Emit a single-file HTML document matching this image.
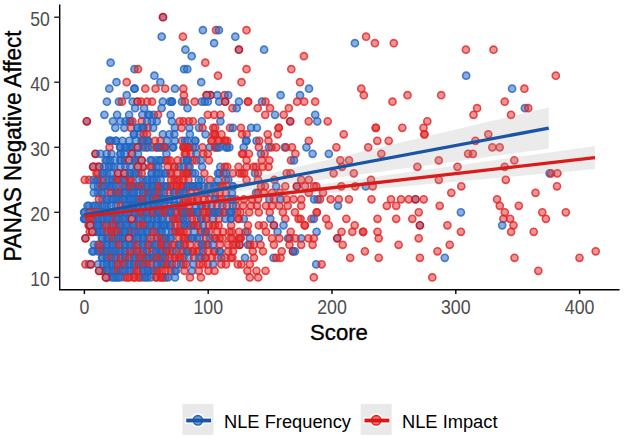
<!DOCTYPE html><html><head><meta charset="utf-8"><style>html,body{margin:0;padding:0;background:#fff;}
svg{display:block;}
.b{fill:#2a6cc4;fill-opacity:.55;stroke:#2264c0;stroke-opacity:.8;stroke-width:1.6}
.m{fill:#c0788f;stroke:#be1c2c;stroke-width:1.7}
.r{fill:#e3262a;fill-opacity:.5;stroke:#dd2626;stroke-opacity:.8;stroke-width:1.6}
</style></head><body><svg width="624" height="439" viewBox="0 0 624 439">
<rect width="624" height="439" fill="#fff"/>
<circle cx="215.0" cy="134.3" r="3.55" class="r"/>
<circle cx="138.5" cy="147.3" r="3.55" class="m"/>
<circle cx="156.5" cy="147.3" r="3.55" class="r"/>
<circle cx="165.5" cy="147.3" r="3.55" class="r"/>
<circle cx="183.5" cy="147.3" r="3.55" class="r"/>
<circle cx="188.0" cy="147.3" r="3.55" class="r"/>
<circle cx="215.0" cy="147.3" r="3.55" class="r"/>
<circle cx="125.0" cy="160.3" r="3.55" class="m"/>
<circle cx="129.5" cy="160.3" r="3.55" class="m"/>
<circle cx="138.5" cy="160.3" r="3.55" class="m"/>
<circle cx="165.5" cy="160.3" r="3.55" class="r"/>
<circle cx="170.0" cy="160.3" r="3.55" class="r"/>
<circle cx="192.5" cy="160.3" r="3.55" class="r"/>
<circle cx="93.5" cy="166.8" r="3.55" class="m"/>
<circle cx="98.0" cy="166.8" r="3.55" class="m"/>
<circle cx="143.0" cy="166.8" r="3.55" class="m"/>
<circle cx="152.0" cy="166.8" r="3.55" class="r"/>
<circle cx="174.5" cy="166.8" r="3.55" class="r"/>
<circle cx="98.0" cy="173.3" r="3.55" class="r"/>
<circle cx="125.0" cy="173.3" r="3.55" class="m"/>
<circle cx="170.0" cy="173.3" r="3.55" class="r"/>
<circle cx="183.5" cy="173.3" r="3.55" class="r"/>
<circle cx="188.0" cy="173.3" r="3.55" class="r"/>
<circle cx="242.0" cy="173.3" r="3.55" class="r"/>
<circle cx="89.0" cy="179.8" r="3.55" class="r"/>
<circle cx="116.0" cy="179.8" r="3.55" class="r"/>
<circle cx="120.5" cy="179.8" r="3.55" class="r"/>
<circle cx="129.5" cy="179.8" r="3.55" class="r"/>
<circle cx="174.5" cy="179.8" r="3.55" class="r"/>
<circle cx="179.0" cy="179.8" r="3.55" class="r"/>
<circle cx="170.0" cy="186.3" r="3.55" class="r"/>
<circle cx="183.5" cy="186.3" r="3.55" class="r"/>
<circle cx="210.5" cy="95.2" r="3.55" class="m"/>
<circle cx="183.5" cy="121.3" r="3.55" class="r"/>
<circle cx="143.0" cy="140.8" r="3.55" class="r"/>
<circle cx="179.0" cy="192.8" r="3.55" class="r"/>
<circle cx="183.5" cy="199.3" r="3.55" class="r"/>
<circle cx="188.0" cy="199.3" r="3.55" class="r"/>
<circle cx="192.5" cy="199.3" r="3.55" class="r"/>
<circle cx="197.0" cy="199.3" r="3.55" class="r"/>
<circle cx="219.5" cy="199.3" r="3.55" class="r"/>
<circle cx="183.5" cy="205.8" r="3.55" class="r"/>
<circle cx="206.0" cy="205.8" r="3.55" class="r"/>
<circle cx="165.5" cy="212.3" r="3.55" class="r"/>
<circle cx="188.0" cy="212.3" r="3.55" class="r"/>
<circle cx="174.5" cy="218.8" r="3.55" class="r"/>
<circle cx="179.0" cy="218.8" r="3.55" class="r"/>
<circle cx="206.0" cy="218.8" r="3.55" class="r"/>
<circle cx="192.5" cy="225.3" r="3.55" class="r"/>
<circle cx="197.0" cy="225.3" r="3.55" class="r"/>
<circle cx="215.0" cy="225.3" r="3.55" class="r"/>
<circle cx="174.5" cy="231.8" r="3.55" class="r"/>
<circle cx="179.0" cy="231.8" r="3.55" class="r"/>
<circle cx="183.5" cy="231.8" r="3.55" class="r"/>
<circle cx="201.5" cy="231.8" r="3.55" class="r"/>
<circle cx="174.5" cy="257.8" r="3.55" class="r"/>
<circle cx="179.0" cy="257.8" r="3.55" class="r"/>
<circle cx="183.5" cy="257.8" r="3.55" class="r"/>
<circle cx="206.0" cy="257.8" r="3.55" class="r"/>
<circle cx="165.5" cy="251.3" r="3.55" class="r"/>
<circle cx="170.0" cy="251.3" r="3.55" class="r"/>
<circle cx="183.5" cy="251.3" r="3.55" class="r"/>
<circle cx="192.5" cy="251.3" r="3.55" class="r"/>
<circle cx="197.0" cy="251.3" r="3.55" class="r"/>
<circle cx="215.0" cy="251.3" r="3.55" class="r"/>
<circle cx="102.5" cy="270.8" r="3.55" class="m"/>
<circle cx="134.0" cy="270.8" r="3.55" class="r"/>
<circle cx="138.5" cy="270.8" r="3.55" class="r"/>
<circle cx="156.5" cy="270.8" r="3.55" class="r"/>
<circle cx="165.5" cy="244.8" r="3.55" class="r"/>
<circle cx="174.5" cy="244.8" r="3.55" class="r"/>
<circle cx="183.5" cy="244.8" r="3.55" class="r"/>
<circle cx="206.0" cy="244.8" r="3.55" class="r"/>
<circle cx="183.5" cy="238.3" r="3.55" class="r"/>
<circle cx="188.0" cy="238.3" r="3.55" class="r"/>
<circle cx="215.0" cy="238.3" r="3.55" class="r"/>
<circle cx="219.5" cy="238.3" r="3.55" class="r"/>
<circle cx="107.0" cy="277.4" r="3.55" class="m"/>
<circle cx="125.0" cy="277.4" r="3.55" class="r"/>
<circle cx="129.5" cy="277.4" r="3.55" class="r"/>
<circle cx="134.0" cy="277.4" r="3.55" class="r"/>
<circle cx="138.5" cy="277.4" r="3.55" class="r"/>
<circle cx="156.5" cy="277.4" r="3.55" class="r"/>
<circle cx="161.0" cy="277.4" r="3.55" class="r"/>
<circle cx="165.5" cy="277.4" r="3.55" class="r"/>
<circle cx="165.5" cy="264.3" r="3.55" class="r"/>
<circle cx="183.5" cy="264.3" r="3.55" class="r"/>
<circle cx="170.0" cy="101.7" r="3.55" class="b"/>
<circle cx="134.0" cy="134.3" r="3.55" class="b"/>
<circle cx="120.5" cy="147.3" r="3.55" class="b"/>
<circle cx="125.0" cy="147.3" r="3.55" class="b"/>
<circle cx="129.5" cy="147.3" r="3.55" class="b"/>
<circle cx="134.0" cy="147.3" r="3.55" class="b"/>
<circle cx="152.0" cy="147.3" r="3.55" class="b"/>
<circle cx="161.0" cy="147.3" r="3.55" class="b"/>
<circle cx="107.0" cy="160.3" r="3.55" class="b"/>
<circle cx="120.5" cy="160.3" r="3.55" class="b"/>
<circle cx="134.0" cy="160.3" r="3.55" class="b"/>
<circle cx="152.0" cy="160.3" r="3.55" class="b"/>
<circle cx="156.5" cy="160.3" r="3.55" class="b"/>
<circle cx="161.0" cy="160.3" r="3.55" class="b"/>
<circle cx="183.5" cy="160.3" r="3.55" class="b"/>
<circle cx="188.0" cy="160.3" r="3.55" class="b"/>
<circle cx="111.5" cy="166.8" r="3.55" class="b"/>
<circle cx="120.5" cy="166.8" r="3.55" class="b"/>
<circle cx="156.5" cy="166.8" r="3.55" class="b"/>
<circle cx="179.0" cy="166.8" r="3.55" class="b"/>
<circle cx="102.5" cy="173.3" r="3.55" class="b"/>
<circle cx="107.0" cy="173.3" r="3.55" class="b"/>
<circle cx="129.5" cy="173.3" r="3.55" class="b"/>
<circle cx="134.0" cy="173.3" r="3.55" class="b"/>
<circle cx="138.5" cy="173.3" r="3.55" class="b"/>
<circle cx="152.0" cy="173.3" r="3.55" class="b"/>
<circle cx="156.5" cy="173.3" r="3.55" class="b"/>
<circle cx="161.0" cy="173.3" r="3.55" class="b"/>
<circle cx="165.5" cy="173.3" r="3.55" class="b"/>
<circle cx="192.5" cy="173.3" r="3.55" class="b"/>
<circle cx="219.5" cy="173.3" r="3.55" class="b"/>
<circle cx="93.5" cy="179.8" r="3.55" class="b"/>
<circle cx="98.0" cy="179.8" r="3.55" class="b"/>
<circle cx="111.5" cy="179.8" r="3.55" class="b"/>
<circle cx="125.0" cy="179.8" r="3.55" class="b"/>
<circle cx="143.0" cy="179.8" r="3.55" class="b"/>
<circle cx="147.5" cy="179.8" r="3.55" class="b"/>
<circle cx="152.0" cy="179.8" r="3.55" class="b"/>
<circle cx="156.5" cy="179.8" r="3.55" class="b"/>
<circle cx="201.5" cy="179.8" r="3.55" class="b"/>
<circle cx="98.0" cy="186.3" r="3.55" class="b"/>
<circle cx="102.5" cy="186.3" r="3.55" class="b"/>
<circle cx="107.0" cy="186.3" r="3.55" class="b"/>
<circle cx="111.5" cy="186.3" r="3.55" class="b"/>
<circle cx="125.0" cy="186.3" r="3.55" class="b"/>
<circle cx="129.5" cy="186.3" r="3.55" class="b"/>
<circle cx="134.0" cy="186.3" r="3.55" class="b"/>
<circle cx="138.5" cy="186.3" r="3.55" class="b"/>
<circle cx="143.0" cy="186.3" r="3.55" class="b"/>
<circle cx="152.0" cy="186.3" r="3.55" class="b"/>
<circle cx="156.5" cy="186.3" r="3.55" class="b"/>
<circle cx="161.0" cy="186.3" r="3.55" class="b"/>
<circle cx="165.5" cy="186.3" r="3.55" class="b"/>
<circle cx="188.0" cy="186.3" r="3.55" class="b"/>
<circle cx="192.5" cy="186.3" r="3.55" class="b"/>
<circle cx="197.0" cy="186.3" r="3.55" class="b"/>
<circle cx="215.0" cy="186.3" r="3.55" class="b"/>
<circle cx="219.5" cy="186.3" r="3.55" class="b"/>
<circle cx="120.5" cy="121.3" r="3.55" class="b"/>
<circle cx="129.5" cy="121.3" r="3.55" class="b"/>
<circle cx="152.0" cy="121.3" r="3.55" class="b"/>
<circle cx="143.0" cy="127.8" r="3.55" class="b"/>
<circle cx="111.5" cy="140.8" r="3.55" class="b"/>
<circle cx="116.0" cy="140.8" r="3.55" class="b"/>
<circle cx="147.5" cy="140.8" r="3.55" class="b"/>
<circle cx="111.5" cy="153.8" r="3.55" class="b"/>
<circle cx="120.5" cy="153.8" r="3.55" class="b"/>
<circle cx="98.0" cy="192.8" r="3.55" class="b"/>
<circle cx="102.5" cy="192.8" r="3.55" class="b"/>
<circle cx="111.5" cy="192.8" r="3.55" class="b"/>
<circle cx="116.0" cy="192.8" r="3.55" class="b"/>
<circle cx="120.5" cy="192.8" r="3.55" class="b"/>
<circle cx="125.0" cy="192.8" r="3.55" class="b"/>
<circle cx="129.5" cy="192.8" r="3.55" class="b"/>
<circle cx="134.0" cy="192.8" r="3.55" class="b"/>
<circle cx="143.0" cy="192.8" r="3.55" class="b"/>
<circle cx="147.5" cy="192.8" r="3.55" class="b"/>
<circle cx="152.0" cy="192.8" r="3.55" class="b"/>
<circle cx="156.5" cy="192.8" r="3.55" class="b"/>
<circle cx="161.0" cy="192.8" r="3.55" class="b"/>
<circle cx="174.5" cy="192.8" r="3.55" class="b"/>
<circle cx="183.5" cy="192.8" r="3.55" class="b"/>
<circle cx="201.5" cy="192.8" r="3.55" class="b"/>
<circle cx="206.0" cy="192.8" r="3.55" class="b"/>
<circle cx="102.5" cy="199.3" r="3.55" class="b"/>
<circle cx="107.0" cy="199.3" r="3.55" class="b"/>
<circle cx="111.5" cy="199.3" r="3.55" class="b"/>
<circle cx="116.0" cy="199.3" r="3.55" class="b"/>
<circle cx="120.5" cy="199.3" r="3.55" class="b"/>
<circle cx="125.0" cy="199.3" r="3.55" class="b"/>
<circle cx="129.5" cy="199.3" r="3.55" class="b"/>
<circle cx="134.0" cy="199.3" r="3.55" class="b"/>
<circle cx="138.5" cy="199.3" r="3.55" class="b"/>
<circle cx="143.0" cy="199.3" r="3.55" class="b"/>
<circle cx="147.5" cy="199.3" r="3.55" class="b"/>
<circle cx="152.0" cy="199.3" r="3.55" class="b"/>
<circle cx="156.5" cy="199.3" r="3.55" class="b"/>
<circle cx="161.0" cy="199.3" r="3.55" class="b"/>
<circle cx="165.5" cy="199.3" r="3.55" class="b"/>
<circle cx="170.0" cy="199.3" r="3.55" class="b"/>
<circle cx="215.0" cy="199.3" r="3.55" class="b"/>
<circle cx="89.0" cy="205.8" r="3.55" class="b"/>
<circle cx="93.5" cy="205.8" r="3.55" class="b"/>
<circle cx="98.0" cy="205.8" r="3.55" class="b"/>
<circle cx="102.5" cy="205.8" r="3.55" class="b"/>
<circle cx="107.0" cy="205.8" r="3.55" class="b"/>
<circle cx="116.0" cy="205.8" r="3.55" class="b"/>
<circle cx="125.0" cy="205.8" r="3.55" class="b"/>
<circle cx="129.5" cy="205.8" r="3.55" class="b"/>
<circle cx="134.0" cy="205.8" r="3.55" class="b"/>
<circle cx="138.5" cy="205.8" r="3.55" class="b"/>
<circle cx="143.0" cy="205.8" r="3.55" class="b"/>
<circle cx="147.5" cy="205.8" r="3.55" class="b"/>
<circle cx="152.0" cy="205.8" r="3.55" class="b"/>
<circle cx="156.5" cy="205.8" r="3.55" class="b"/>
<circle cx="161.0" cy="205.8" r="3.55" class="b"/>
<circle cx="174.5" cy="205.8" r="3.55" class="b"/>
<circle cx="179.0" cy="205.8" r="3.55" class="b"/>
<circle cx="201.5" cy="205.8" r="3.55" class="b"/>
<circle cx="84.5" cy="212.3" r="3.55" class="b"/>
<circle cx="89.0" cy="212.3" r="3.55" class="b"/>
<circle cx="93.5" cy="212.3" r="3.55" class="b"/>
<circle cx="98.0" cy="212.3" r="3.55" class="b"/>
<circle cx="102.5" cy="212.3" r="3.55" class="b"/>
<circle cx="107.0" cy="212.3" r="3.55" class="b"/>
<circle cx="111.5" cy="212.3" r="3.55" class="b"/>
<circle cx="116.0" cy="212.3" r="3.55" class="b"/>
<circle cx="120.5" cy="212.3" r="3.55" class="b"/>
<circle cx="125.0" cy="212.3" r="3.55" class="b"/>
<circle cx="129.5" cy="212.3" r="3.55" class="b"/>
<circle cx="134.0" cy="212.3" r="3.55" class="b"/>
<circle cx="138.5" cy="212.3" r="3.55" class="b"/>
<circle cx="143.0" cy="212.3" r="3.55" class="b"/>
<circle cx="147.5" cy="212.3" r="3.55" class="b"/>
<circle cx="152.0" cy="212.3" r="3.55" class="b"/>
<circle cx="156.5" cy="212.3" r="3.55" class="b"/>
<circle cx="161.0" cy="212.3" r="3.55" class="b"/>
<circle cx="170.0" cy="212.3" r="3.55" class="b"/>
<circle cx="183.5" cy="212.3" r="3.55" class="b"/>
<circle cx="192.5" cy="212.3" r="3.55" class="b"/>
<circle cx="197.0" cy="212.3" r="3.55" class="b"/>
<circle cx="215.0" cy="212.3" r="3.55" class="b"/>
<circle cx="219.5" cy="212.3" r="3.55" class="b"/>
<circle cx="84.5" cy="218.8" r="3.55" class="b"/>
<circle cx="89.0" cy="218.8" r="3.55" class="b"/>
<circle cx="93.5" cy="218.8" r="3.55" class="b"/>
<circle cx="98.0" cy="218.8" r="3.55" class="b"/>
<circle cx="102.5" cy="218.8" r="3.55" class="b"/>
<circle cx="107.0" cy="218.8" r="3.55" class="b"/>
<circle cx="111.5" cy="218.8" r="3.55" class="b"/>
<circle cx="116.0" cy="218.8" r="3.55" class="b"/>
<circle cx="120.5" cy="218.8" r="3.55" class="b"/>
<circle cx="125.0" cy="218.8" r="3.55" class="b"/>
<circle cx="129.5" cy="218.8" r="3.55" class="b"/>
<circle cx="134.0" cy="218.8" r="3.55" class="b"/>
<circle cx="138.5" cy="218.8" r="3.55" class="b"/>
<circle cx="143.0" cy="218.8" r="3.55" class="b"/>
<circle cx="147.5" cy="218.8" r="3.55" class="b"/>
<circle cx="152.0" cy="218.8" r="3.55" class="b"/>
<circle cx="156.5" cy="218.8" r="3.55" class="b"/>
<circle cx="161.0" cy="218.8" r="3.55" class="b"/>
<circle cx="183.5" cy="218.8" r="3.55" class="b"/>
<circle cx="201.5" cy="218.8" r="3.55" class="b"/>
<circle cx="89.0" cy="225.3" r="3.55" class="b"/>
<circle cx="93.5" cy="225.3" r="3.55" class="b"/>
<circle cx="98.0" cy="225.3" r="3.55" class="b"/>
<circle cx="102.5" cy="225.3" r="3.55" class="b"/>
<circle cx="107.0" cy="225.3" r="3.55" class="b"/>
<circle cx="111.5" cy="225.3" r="3.55" class="b"/>
<circle cx="116.0" cy="225.3" r="3.55" class="b"/>
<circle cx="120.5" cy="225.3" r="3.55" class="b"/>
<circle cx="125.0" cy="225.3" r="3.55" class="b"/>
<circle cx="129.5" cy="225.3" r="3.55" class="b"/>
<circle cx="134.0" cy="225.3" r="3.55" class="b"/>
<circle cx="138.5" cy="225.3" r="3.55" class="b"/>
<circle cx="143.0" cy="225.3" r="3.55" class="b"/>
<circle cx="147.5" cy="225.3" r="3.55" class="b"/>
<circle cx="152.0" cy="225.3" r="3.55" class="b"/>
<circle cx="156.5" cy="225.3" r="3.55" class="b"/>
<circle cx="161.0" cy="225.3" r="3.55" class="b"/>
<circle cx="165.5" cy="225.3" r="3.55" class="b"/>
<circle cx="170.0" cy="225.3" r="3.55" class="b"/>
<circle cx="183.5" cy="225.3" r="3.55" class="b"/>
<circle cx="188.0" cy="225.3" r="3.55" class="b"/>
<circle cx="93.5" cy="231.8" r="3.55" class="b"/>
<circle cx="98.0" cy="231.8" r="3.55" class="b"/>
<circle cx="102.5" cy="231.8" r="3.55" class="b"/>
<circle cx="107.0" cy="231.8" r="3.55" class="b"/>
<circle cx="111.5" cy="231.8" r="3.55" class="b"/>
<circle cx="116.0" cy="231.8" r="3.55" class="b"/>
<circle cx="120.5" cy="231.8" r="3.55" class="b"/>
<circle cx="125.0" cy="231.8" r="3.55" class="b"/>
<circle cx="129.5" cy="231.8" r="3.55" class="b"/>
<circle cx="134.0" cy="231.8" r="3.55" class="b"/>
<circle cx="138.5" cy="231.8" r="3.55" class="b"/>
<circle cx="143.0" cy="231.8" r="3.55" class="b"/>
<circle cx="147.5" cy="231.8" r="3.55" class="b"/>
<circle cx="152.0" cy="231.8" r="3.55" class="b"/>
<circle cx="156.5" cy="231.8" r="3.55" class="b"/>
<circle cx="161.0" cy="231.8" r="3.55" class="b"/>
<circle cx="206.0" cy="231.8" r="3.55" class="b"/>
<circle cx="102.5" cy="257.8" r="3.55" class="b"/>
<circle cx="107.0" cy="257.8" r="3.55" class="b"/>
<circle cx="111.5" cy="257.8" r="3.55" class="b"/>
<circle cx="116.0" cy="257.8" r="3.55" class="b"/>
<circle cx="120.5" cy="257.8" r="3.55" class="b"/>
<circle cx="125.0" cy="257.8" r="3.55" class="b"/>
<circle cx="129.5" cy="257.8" r="3.55" class="b"/>
<circle cx="134.0" cy="257.8" r="3.55" class="b"/>
<circle cx="138.5" cy="257.8" r="3.55" class="b"/>
<circle cx="143.0" cy="257.8" r="3.55" class="b"/>
<circle cx="147.5" cy="257.8" r="3.55" class="b"/>
<circle cx="152.0" cy="257.8" r="3.55" class="b"/>
<circle cx="156.5" cy="257.8" r="3.55" class="b"/>
<circle cx="161.0" cy="257.8" r="3.55" class="b"/>
<circle cx="165.5" cy="257.8" r="3.55" class="b"/>
<circle cx="201.5" cy="257.8" r="3.55" class="b"/>
<circle cx="93.5" cy="251.3" r="3.55" class="b"/>
<circle cx="98.0" cy="251.3" r="3.55" class="b"/>
<circle cx="102.5" cy="251.3" r="3.55" class="b"/>
<circle cx="107.0" cy="251.3" r="3.55" class="b"/>
<circle cx="111.5" cy="251.3" r="3.55" class="b"/>
<circle cx="116.0" cy="251.3" r="3.55" class="b"/>
<circle cx="120.5" cy="251.3" r="3.55" class="b"/>
<circle cx="125.0" cy="251.3" r="3.55" class="b"/>
<circle cx="129.5" cy="251.3" r="3.55" class="b"/>
<circle cx="134.0" cy="251.3" r="3.55" class="b"/>
<circle cx="138.5" cy="251.3" r="3.55" class="b"/>
<circle cx="143.0" cy="251.3" r="3.55" class="b"/>
<circle cx="147.5" cy="251.3" r="3.55" class="b"/>
<circle cx="156.5" cy="251.3" r="3.55" class="b"/>
<circle cx="161.0" cy="251.3" r="3.55" class="b"/>
<circle cx="188.0" cy="251.3" r="3.55" class="b"/>
<circle cx="219.5" cy="251.3" r="3.55" class="b"/>
<circle cx="107.0" cy="270.8" r="3.55" class="b"/>
<circle cx="111.5" cy="270.8" r="3.55" class="b"/>
<circle cx="116.0" cy="270.8" r="3.55" class="b"/>
<circle cx="120.5" cy="270.8" r="3.55" class="b"/>
<circle cx="125.0" cy="270.8" r="3.55" class="b"/>
<circle cx="129.5" cy="270.8" r="3.55" class="b"/>
<circle cx="143.0" cy="270.8" r="3.55" class="b"/>
<circle cx="147.5" cy="270.8" r="3.55" class="b"/>
<circle cx="152.0" cy="270.8" r="3.55" class="b"/>
<circle cx="174.5" cy="270.8" r="3.55" class="b"/>
<circle cx="98.0" cy="244.8" r="3.55" class="b"/>
<circle cx="102.5" cy="244.8" r="3.55" class="b"/>
<circle cx="107.0" cy="244.8" r="3.55" class="b"/>
<circle cx="111.5" cy="244.8" r="3.55" class="b"/>
<circle cx="116.0" cy="244.8" r="3.55" class="b"/>
<circle cx="120.5" cy="244.8" r="3.55" class="b"/>
<circle cx="125.0" cy="244.8" r="3.55" class="b"/>
<circle cx="129.5" cy="244.8" r="3.55" class="b"/>
<circle cx="134.0" cy="244.8" r="3.55" class="b"/>
<circle cx="138.5" cy="244.8" r="3.55" class="b"/>
<circle cx="143.0" cy="244.8" r="3.55" class="b"/>
<circle cx="147.5" cy="244.8" r="3.55" class="b"/>
<circle cx="152.0" cy="244.8" r="3.55" class="b"/>
<circle cx="156.5" cy="244.8" r="3.55" class="b"/>
<circle cx="161.0" cy="244.8" r="3.55" class="b"/>
<circle cx="179.0" cy="244.8" r="3.55" class="b"/>
<circle cx="201.5" cy="244.8" r="3.55" class="b"/>
<circle cx="102.5" cy="238.3" r="3.55" class="b"/>
<circle cx="107.0" cy="238.3" r="3.55" class="b"/>
<circle cx="111.5" cy="238.3" r="3.55" class="b"/>
<circle cx="116.0" cy="238.3" r="3.55" class="b"/>
<circle cx="120.5" cy="238.3" r="3.55" class="b"/>
<circle cx="125.0" cy="238.3" r="3.55" class="b"/>
<circle cx="129.5" cy="238.3" r="3.55" class="b"/>
<circle cx="134.0" cy="238.3" r="3.55" class="b"/>
<circle cx="138.5" cy="238.3" r="3.55" class="b"/>
<circle cx="143.0" cy="238.3" r="3.55" class="b"/>
<circle cx="147.5" cy="238.3" r="3.55" class="b"/>
<circle cx="156.5" cy="238.3" r="3.55" class="b"/>
<circle cx="161.0" cy="238.3" r="3.55" class="b"/>
<circle cx="165.5" cy="238.3" r="3.55" class="b"/>
<circle cx="170.0" cy="238.3" r="3.55" class="b"/>
<circle cx="192.5" cy="238.3" r="3.55" class="b"/>
<circle cx="197.0" cy="238.3" r="3.55" class="b"/>
<circle cx="111.5" cy="277.4" r="3.55" class="b"/>
<circle cx="116.0" cy="277.4" r="3.55" class="b"/>
<circle cx="120.5" cy="277.4" r="3.55" class="b"/>
<circle cx="143.0" cy="277.4" r="3.55" class="b"/>
<circle cx="147.5" cy="277.4" r="3.55" class="b"/>
<circle cx="89.0" cy="264.3" r="3.55" class="b"/>
<circle cx="98.0" cy="264.3" r="3.55" class="b"/>
<circle cx="107.0" cy="264.3" r="3.55" class="b"/>
<circle cx="111.5" cy="264.3" r="3.55" class="b"/>
<circle cx="116.0" cy="264.3" r="3.55" class="b"/>
<circle cx="120.5" cy="264.3" r="3.55" class="b"/>
<circle cx="125.0" cy="264.3" r="3.55" class="b"/>
<circle cx="129.5" cy="264.3" r="3.55" class="b"/>
<circle cx="134.0" cy="264.3" r="3.55" class="b"/>
<circle cx="138.5" cy="264.3" r="3.55" class="b"/>
<circle cx="143.0" cy="264.3" r="3.55" class="b"/>
<circle cx="147.5" cy="264.3" r="3.55" class="b"/>
<circle cx="156.5" cy="264.3" r="3.55" class="b"/>
<circle cx="161.0" cy="264.3" r="3.55" class="b"/>
<circle cx="202.9" cy="30.2" r="3.55" class="b"/>
<circle cx="216.0" cy="30.2" r="3.55" class="r"/>
<circle cx="218.9" cy="30.2" r="3.55" class="b"/>
<circle cx="246.5" cy="30.2" r="3.55" class="r"/>
<circle cx="235.3" cy="36.7" r="3.55" class="b"/>
<circle cx="214.1" cy="43.2" r="3.55" class="b"/>
<circle cx="238.9" cy="49.7" r="3.55" class="m"/>
<circle cx="264.1" cy="49.7" r="3.55" class="b"/>
<circle cx="205.3" cy="62.7" r="3.55" class="r"/>
<circle cx="246.5" cy="69.2" r="3.55" class="r"/>
<circle cx="291.3" cy="69.2" r="3.55" class="r"/>
<circle cx="163.0" cy="17.2" r="3.55" class="m"/>
<circle cx="161.7" cy="36.7" r="3.55" class="b"/>
<circle cx="182.9" cy="36.7" r="3.55" class="r"/>
<circle cx="185.4" cy="49.7" r="3.55" class="b"/>
<circle cx="191.7" cy="56.2" r="3.55" class="b"/>
<circle cx="110.6" cy="62.7" r="3.55" class="b"/>
<circle cx="134.5" cy="69.2" r="3.55" class="b"/>
<circle cx="138.0" cy="69.2" r="3.55" class="r"/>
<circle cx="184.1" cy="69.2" r="3.55" class="b"/>
<circle cx="187.3" cy="69.2" r="3.55" class="b"/>
<circle cx="303.9" cy="56.2" r="3.55" class="r"/>
<circle cx="354.9" cy="43.2" r="3.55" class="b"/>
<circle cx="366.1" cy="36.7" r="3.55" class="r"/>
<circle cx="374.9" cy="43.2" r="3.55" class="r"/>
<circle cx="393.8" cy="43.2" r="3.55" class="r"/>
<circle cx="465.9" cy="49.7" r="3.55" class="r"/>
<circle cx="493.5" cy="49.7" r="3.55" class="r"/>
<circle cx="555.8" cy="75.7" r="3.55" class="r"/>
<circle cx="512.1" cy="88.7" r="3.55" class="b"/>
<circle cx="524.4" cy="88.7" r="3.55" class="r"/>
<circle cx="504.7" cy="101.7" r="3.55" class="r"/>
<circle cx="524.9" cy="108.2" r="3.55" class="b"/>
<circle cx="528.2" cy="108.2" r="3.55" class="r"/>
<circle cx="511.0" cy="114.8" r="3.55" class="r"/>
<circle cx="488.3" cy="134.3" r="3.55" class="r"/>
<circle cx="492.3" cy="147.3" r="3.55" class="r"/>
<circle cx="499.7" cy="147.3" r="3.55" class="r"/>
<circle cx="514.3" cy="160.3" r="3.55" class="r"/>
<circle cx="504.7" cy="166.8" r="3.55" class="r"/>
<circle cx="549.6" cy="173.3" r="3.55" class="b"/>
<circle cx="551.0" cy="173.3" r="3.55" class="r"/>
<circle cx="557.4" cy="173.3" r="3.55" class="r"/>
<circle cx="505.8" cy="179.8" r="3.55" class="r"/>
<circle cx="557.0" cy="186.3" r="3.55" class="r"/>
<circle cx="466.2" cy="75.7" r="3.55" class="b"/>
<circle cx="407.5" cy="95.2" r="3.55" class="r"/>
<circle cx="441.2" cy="95.2" r="3.55" class="r"/>
<circle cx="392.5" cy="101.7" r="3.55" class="r"/>
<circle cx="477.1" cy="108.2" r="3.55" class="r"/>
<circle cx="473.5" cy="114.8" r="3.55" class="r"/>
<circle cx="427.3" cy="121.3" r="3.55" class="r"/>
<circle cx="375.8" cy="127.8" r="3.55" class="r"/>
<circle cx="375.8" cy="127.8" r="3.55" class="r"/>
<circle cx="402.3" cy="127.8" r="3.55" class="r"/>
<circle cx="423.5" cy="127.8" r="3.55" class="r"/>
<circle cx="424.4" cy="134.3" r="3.55" class="r"/>
<circle cx="424.4" cy="134.3" r="3.55" class="r"/>
<circle cx="377.3" cy="140.8" r="3.55" class="r"/>
<circle cx="388.7" cy="140.8" r="3.55" class="r"/>
<circle cx="475.4" cy="140.8" r="3.55" class="r"/>
<circle cx="300.0" cy="82.2" r="3.55" class="r"/>
<circle cx="309.0" cy="88.7" r="3.55" class="b"/>
<circle cx="361.3" cy="88.7" r="3.55" class="r"/>
<circle cx="280.6" cy="95.2" r="3.55" class="b"/>
<circle cx="300.0" cy="95.2" r="3.55" class="b"/>
<circle cx="363.8" cy="95.2" r="3.55" class="r"/>
<circle cx="262.0" cy="101.7" r="3.55" class="b"/>
<circle cx="265.5" cy="101.7" r="3.55" class="r"/>
<circle cx="297.1" cy="101.7" r="3.55" class="r"/>
<circle cx="304.2" cy="101.7" r="3.55" class="r"/>
<circle cx="315.2" cy="101.7" r="3.55" class="r"/>
<circle cx="270.0" cy="108.2" r="3.55" class="r"/>
<circle cx="288.8" cy="108.2" r="3.55" class="r"/>
<circle cx="265.2" cy="114.8" r="3.55" class="r"/>
<circle cx="275.0" cy="114.8" r="3.55" class="b"/>
<circle cx="283.7" cy="114.8" r="3.55" class="r"/>
<circle cx="315.2" cy="114.8" r="3.55" class="b"/>
<circle cx="290.2" cy="121.3" r="3.55" class="m"/>
<circle cx="308.7" cy="121.3" r="3.55" class="r"/>
<circle cx="317.3" cy="121.3" r="3.55" class="b"/>
<circle cx="327.7" cy="121.3" r="3.55" class="r"/>
<circle cx="278.7" cy="127.8" r="3.55" class="r"/>
<circle cx="278.7" cy="127.8" r="3.55" class="r"/>
<circle cx="267.7" cy="134.3" r="3.55" class="r"/>
<circle cx="277.7" cy="134.3" r="3.55" class="r"/>
<circle cx="343.7" cy="134.3" r="3.55" class="r"/>
<circle cx="256.9" cy="127.8" r="3.55" class="b"/>
<circle cx="256.5" cy="140.8" r="3.55" class="b"/>
<circle cx="259.3" cy="140.8" r="3.55" class="r"/>
<circle cx="268.5" cy="140.8" r="3.55" class="r"/>
<circle cx="308.8" cy="140.8" r="3.55" class="r"/>
<circle cx="258.8" cy="147.3" r="3.55" class="r"/>
<circle cx="268.9" cy="147.3" r="3.55" class="b"/>
<circle cx="271.5" cy="147.3" r="3.55" class="r"/>
<circle cx="276.2" cy="147.3" r="3.55" class="r"/>
<circle cx="284.8" cy="147.3" r="3.55" class="b"/>
<circle cx="286.0" cy="147.3" r="3.55" class="r"/>
<circle cx="292.0" cy="147.3" r="3.55" class="r"/>
<circle cx="306.4" cy="147.3" r="3.55" class="b"/>
<circle cx="261.0" cy="153.8" r="3.55" class="b"/>
<circle cx="264.6" cy="153.8" r="3.55" class="r"/>
<circle cx="295.4" cy="153.8" r="3.55" class="r"/>
<circle cx="312.6" cy="153.8" r="3.55" class="b"/>
<circle cx="261.7" cy="160.3" r="3.55" class="r"/>
<circle cx="269.4" cy="160.3" r="3.55" class="r"/>
<circle cx="291.0" cy="160.3" r="3.55" class="r"/>
<circle cx="294.0" cy="160.3" r="3.55" class="b"/>
<circle cx="336.4" cy="147.3" r="3.55" class="r"/>
<circle cx="368.2" cy="147.3" r="3.55" class="r"/>
<circle cx="328.8" cy="153.8" r="3.55" class="b"/>
<circle cx="340.3" cy="160.3" r="3.55" class="r"/>
<circle cx="349.0" cy="160.3" r="3.55" class="r"/>
<circle cx="381.3" cy="153.8" r="3.55" class="r"/>
<circle cx="417.4" cy="166.8" r="3.55" class="r"/>
<circle cx="468.1" cy="153.8" r="3.55" class="r"/>
<circle cx="472.9" cy="153.8" r="3.55" class="r"/>
<circle cx="438.8" cy="160.3" r="3.55" class="r"/>
<circle cx="457.5" cy="166.8" r="3.55" class="r"/>
<circle cx="256.0" cy="166.8" r="3.55" class="r"/>
<circle cx="262.7" cy="166.8" r="3.55" class="r"/>
<circle cx="268.5" cy="166.8" r="3.55" class="r"/>
<circle cx="255.0" cy="173.3" r="3.55" class="b"/>
<circle cx="258.0" cy="173.3" r="3.55" class="r"/>
<circle cx="286.7" cy="173.3" r="3.55" class="r"/>
<circle cx="290.6" cy="173.3" r="3.55" class="r"/>
<circle cx="258.0" cy="179.8" r="3.55" class="r"/>
<circle cx="274.4" cy="179.8" r="3.55" class="r"/>
<circle cx="301.2" cy="179.8" r="3.55" class="r"/>
<circle cx="308.8" cy="179.8" r="3.55" class="r"/>
<circle cx="261.0" cy="186.3" r="3.55" class="r"/>
<circle cx="265.0" cy="186.3" r="3.55" class="r"/>
<circle cx="276.2" cy="186.3" r="3.55" class="b"/>
<circle cx="285.3" cy="186.3" r="3.55" class="r"/>
<circle cx="296.8" cy="186.3" r="3.55" class="m"/>
<circle cx="305.0" cy="186.3" r="3.55" class="r"/>
<circle cx="314.0" cy="186.3" r="3.55" class="r"/>
<circle cx="256.0" cy="192.8" r="3.55" class="b"/>
<circle cx="258.0" cy="192.8" r="3.55" class="r"/>
<circle cx="264.0" cy="192.8" r="3.55" class="r"/>
<circle cx="272.0" cy="192.8" r="3.55" class="r"/>
<circle cx="280.0" cy="192.8" r="3.55" class="r"/>
<circle cx="308.8" cy="192.8" r="3.55" class="r"/>
<circle cx="258.0" cy="199.3" r="3.55" class="r"/>
<circle cx="269.4" cy="199.3" r="3.55" class="b"/>
<circle cx="274.0" cy="199.3" r="3.55" class="r"/>
<circle cx="293.5" cy="199.3" r="3.55" class="r"/>
<circle cx="314.1" cy="199.3" r="3.55" class="b"/>
<circle cx="342.0" cy="166.8" r="3.55" class="r"/>
<circle cx="333.6" cy="173.3" r="3.55" class="r"/>
<circle cx="353.8" cy="173.3" r="3.55" class="r"/>
<circle cx="371.0" cy="179.8" r="3.55" class="r"/>
<circle cx="316.3" cy="186.3" r="3.55" class="r"/>
<circle cx="341.3" cy="186.3" r="3.55" class="r"/>
<circle cx="355.2" cy="186.3" r="3.55" class="r"/>
<circle cx="365.8" cy="186.3" r="3.55" class="b"/>
<circle cx="323.0" cy="192.8" r="3.55" class="r"/>
<circle cx="317.7" cy="199.3" r="3.55" class="b"/>
<circle cx="320.0" cy="199.3" r="3.55" class="r"/>
<circle cx="330.7" cy="199.3" r="3.55" class="r"/>
<circle cx="338.8" cy="199.3" r="3.55" class="r"/>
<circle cx="349.0" cy="199.3" r="3.55" class="r"/>
<circle cx="371.5" cy="199.3" r="3.55" class="r"/>
<circle cx="337.9" cy="205.8" r="3.55" class="b"/>
<circle cx="372.7" cy="186.3" r="3.55" class="r"/>
<circle cx="391.0" cy="199.3" r="3.55" class="r"/>
<circle cx="401.0" cy="199.3" r="3.55" class="r"/>
<circle cx="408.8" cy="199.3" r="3.55" class="r"/>
<circle cx="415.5" cy="199.3" r="3.55" class="m"/>
<circle cx="423.7" cy="199.3" r="3.55" class="r"/>
<circle cx="438.8" cy="179.8" r="3.55" class="r"/>
<circle cx="461.3" cy="186.3" r="3.55" class="r"/>
<circle cx="451.3" cy="192.8" r="3.55" class="r"/>
<circle cx="439.7" cy="205.8" r="3.55" class="r"/>
<circle cx="535.5" cy="192.8" r="3.55" class="r"/>
<circle cx="497.1" cy="199.3" r="3.55" class="r"/>
<circle cx="499.8" cy="205.8" r="3.55" class="r"/>
<circle cx="518.8" cy="205.8" r="3.55" class="r"/>
<circle cx="504.8" cy="212.3" r="3.55" class="r"/>
<circle cx="503.4" cy="218.8" r="3.55" class="r"/>
<circle cx="510.1" cy="218.8" r="3.55" class="r"/>
<circle cx="502.2" cy="225.3" r="3.55" class="b"/>
<circle cx="513.5" cy="225.3" r="3.55" class="r"/>
<circle cx="511.1" cy="231.8" r="3.55" class="r"/>
<circle cx="533.7" cy="231.8" r="3.55" class="r"/>
<circle cx="542.3" cy="212.3" r="3.55" class="r"/>
<circle cx="545.9" cy="218.8" r="3.55" class="r"/>
<circle cx="565.8" cy="212.3" r="3.55" class="r"/>
<circle cx="579.5" cy="257.8" r="3.55" class="r"/>
<circle cx="595.7" cy="251.3" r="3.55" class="r"/>
<circle cx="538.3" cy="270.8" r="3.55" class="r"/>
<circle cx="460.9" cy="212.3" r="3.55" class="b"/>
<circle cx="447.4" cy="225.3" r="3.55" class="r"/>
<circle cx="460.9" cy="231.8" r="3.55" class="r"/>
<circle cx="449.7" cy="244.8" r="3.55" class="r"/>
<circle cx="437.5" cy="251.3" r="3.55" class="r"/>
<circle cx="444.8" cy="257.8" r="3.55" class="b"/>
<circle cx="514.5" cy="257.8" r="3.55" class="r"/>
<circle cx="386.8" cy="205.8" r="3.55" class="r"/>
<circle cx="396.2" cy="205.8" r="3.55" class="r"/>
<circle cx="418.7" cy="212.3" r="3.55" class="r"/>
<circle cx="377.5" cy="218.8" r="3.55" class="r"/>
<circle cx="396.2" cy="218.8" r="3.55" class="r"/>
<circle cx="412.3" cy="218.8" r="3.55" class="r"/>
<circle cx="419.9" cy="225.3" r="3.55" class="m"/>
<circle cx="377.5" cy="231.8" r="3.55" class="r"/>
<circle cx="378.7" cy="238.3" r="3.55" class="r"/>
<circle cx="418.7" cy="238.3" r="3.55" class="r"/>
<circle cx="398.6" cy="244.8" r="3.55" class="r"/>
<circle cx="378.7" cy="257.8" r="3.55" class="r"/>
<circle cx="419.9" cy="257.8" r="3.55" class="r"/>
<circle cx="432.3" cy="277.4" r="3.55" class="r"/>
<circle cx="301.2" cy="199.3" r="3.55" class="r"/>
<circle cx="301.2" cy="205.8" r="3.55" class="r"/>
<circle cx="316.8" cy="212.3" r="3.55" class="r"/>
<circle cx="316.8" cy="212.3" r="3.55" class="r"/>
<circle cx="300.6" cy="218.8" r="3.55" class="r"/>
<circle cx="311.4" cy="218.8" r="3.55" class="r"/>
<circle cx="313.8" cy="218.8" r="3.55" class="b"/>
<circle cx="326.2" cy="218.8" r="3.55" class="r"/>
<circle cx="346.3" cy="218.8" r="3.55" class="r"/>
<circle cx="304.8" cy="225.3" r="3.55" class="r"/>
<circle cx="304.8" cy="225.3" r="3.55" class="r"/>
<circle cx="328.8" cy="225.3" r="3.55" class="r"/>
<circle cx="354.7" cy="225.3" r="3.55" class="r"/>
<circle cx="316.6" cy="231.8" r="3.55" class="b"/>
<circle cx="341.5" cy="231.8" r="3.55" class="r"/>
<circle cx="352.3" cy="231.8" r="3.55" class="r"/>
<circle cx="363.1" cy="231.8" r="3.55" class="r"/>
<circle cx="363.1" cy="231.8" r="3.55" class="r"/>
<circle cx="301.2" cy="238.3" r="3.55" class="b"/>
<circle cx="308.4" cy="238.3" r="3.55" class="r"/>
<circle cx="313.8" cy="238.3" r="3.55" class="r"/>
<circle cx="337.3" cy="238.3" r="3.55" class="m"/>
<circle cx="312.6" cy="244.8" r="3.55" class="r"/>
<circle cx="342.7" cy="244.8" r="3.55" class="r"/>
<circle cx="301.2" cy="244.8" r="3.55" class="r"/>
<circle cx="364.9" cy="251.3" r="3.55" class="r"/>
<circle cx="350.2" cy="257.8" r="3.55" class="r"/>
<circle cx="316.2" cy="264.3" r="3.55" class="b"/>
<circle cx="321.6" cy="264.3" r="3.55" class="r"/>
<circle cx="313.8" cy="277.4" r="3.55" class="r"/>
<circle cx="231.2" cy="199.3" r="3.55" class="b"/>
<circle cx="236.0" cy="199.3" r="3.55" class="r"/>
<circle cx="244.0" cy="199.3" r="3.55" class="r"/>
<circle cx="252.0" cy="199.3" r="3.55" class="r"/>
<circle cx="280.5" cy="199.3" r="3.55" class="b"/>
<circle cx="286.5" cy="199.3" r="3.55" class="r"/>
<circle cx="236.0" cy="205.8" r="3.55" class="r"/>
<circle cx="243.2" cy="205.8" r="3.55" class="r"/>
<circle cx="251.0" cy="205.8" r="3.55" class="r"/>
<circle cx="257.0" cy="205.8" r="3.55" class="r"/>
<circle cx="266.0" cy="205.8" r="3.55" class="r"/>
<circle cx="272.0" cy="205.8" r="3.55" class="r"/>
<circle cx="279.3" cy="205.8" r="3.55" class="r"/>
<circle cx="287.7" cy="205.8" r="3.55" class="r"/>
<circle cx="231.8" cy="212.3" r="3.55" class="b"/>
<circle cx="237.2" cy="212.3" r="3.55" class="r"/>
<circle cx="249.2" cy="212.3" r="3.55" class="r"/>
<circle cx="258.8" cy="212.3" r="3.55" class="r"/>
<circle cx="269.7" cy="212.3" r="3.55" class="r"/>
<circle cx="282.9" cy="212.3" r="3.55" class="r"/>
<circle cx="294.9" cy="212.3" r="3.55" class="r"/>
<circle cx="231.2" cy="218.8" r="3.55" class="b"/>
<circle cx="238.4" cy="218.8" r="3.55" class="r"/>
<circle cx="243.8" cy="218.8" r="3.55" class="b"/>
<circle cx="270.3" cy="218.8" r="3.55" class="b"/>
<circle cx="285.3" cy="218.8" r="3.55" class="r"/>
<circle cx="298.5" cy="218.8" r="3.55" class="r"/>
<circle cx="231.2" cy="225.3" r="3.55" class="r"/>
<circle cx="248.0" cy="225.3" r="3.55" class="r"/>
<circle cx="258.8" cy="225.3" r="3.55" class="r"/>
<circle cx="263.7" cy="225.3" r="3.55" class="r"/>
<circle cx="273.9" cy="225.3" r="3.55" class="m"/>
<circle cx="283.5" cy="225.3" r="3.55" class="b"/>
<circle cx="231.8" cy="231.8" r="3.55" class="r"/>
<circle cx="245.5" cy="231.8" r="3.55" class="b"/>
<circle cx="247.5" cy="231.8" r="3.55" class="r"/>
<circle cx="266.0" cy="231.8" r="3.55" class="r"/>
<circle cx="277.5" cy="231.8" r="3.55" class="b"/>
<circle cx="290.7" cy="231.8" r="3.55" class="r"/>
<circle cx="240.2" cy="238.3" r="3.55" class="r"/>
<circle cx="249.8" cy="238.3" r="3.55" class="b"/>
<circle cx="258.8" cy="238.3" r="3.55" class="b"/>
<circle cx="272.0" cy="238.3" r="3.55" class="r"/>
<circle cx="279.3" cy="238.3" r="3.55" class="r"/>
<circle cx="288.0" cy="238.3" r="3.55" class="b"/>
<circle cx="289.5" cy="238.3" r="3.55" class="r"/>
<circle cx="295.5" cy="238.3" r="3.55" class="r"/>
<circle cx="232.4" cy="238.3" r="3.55" class="r"/>
<circle cx="240.8" cy="238.3" r="3.55" class="r"/>
<circle cx="233.0" cy="244.8" r="3.55" class="r"/>
<circle cx="239.6" cy="244.8" r="3.55" class="m"/>
<circle cx="248.0" cy="244.8" r="3.55" class="b"/>
<circle cx="250.0" cy="244.8" r="3.55" class="r"/>
<circle cx="254.0" cy="244.8" r="3.55" class="r"/>
<circle cx="260.6" cy="244.8" r="3.55" class="r"/>
<circle cx="273.9" cy="244.8" r="3.55" class="r"/>
<circle cx="289.5" cy="244.8" r="3.55" class="r"/>
<circle cx="233.0" cy="251.3" r="3.55" class="r"/>
<circle cx="252.8" cy="251.3" r="3.55" class="r"/>
<circle cx="263.0" cy="251.3" r="3.55" class="r"/>
<circle cx="281.7" cy="251.3" r="3.55" class="r"/>
<circle cx="293.0" cy="251.3" r="3.55" class="m"/>
<circle cx="295.0" cy="251.3" r="3.55" class="b"/>
<circle cx="232.4" cy="257.8" r="3.55" class="r"/>
<circle cx="245.0" cy="257.8" r="3.55" class="b"/>
<circle cx="254.0" cy="257.8" r="3.55" class="r"/>
<circle cx="273.5" cy="257.8" r="3.55" class="b"/>
<circle cx="276.3" cy="257.8" r="3.55" class="r"/>
<circle cx="280.5" cy="257.8" r="3.55" class="r"/>
<circle cx="237.8" cy="264.3" r="3.55" class="r"/>
<circle cx="241.4" cy="264.3" r="3.55" class="r"/>
<circle cx="249.8" cy="264.3" r="3.55" class="r"/>
<circle cx="247.4" cy="270.8" r="3.55" class="r"/>
<circle cx="256.4" cy="270.8" r="3.55" class="r"/>
<circle cx="265.5" cy="270.8" r="3.55" class="r"/>
<circle cx="249.8" cy="277.4" r="3.55" class="r"/>
<circle cx="258.2" cy="277.4" r="3.55" class="r"/>
<circle cx="218.0" cy="75.7" r="3.55" class="r"/>
<circle cx="201.2" cy="82.2" r="3.55" class="b"/>
<circle cx="241.5" cy="82.2" r="3.55" class="r"/>
<circle cx="206.6" cy="95.2" r="3.55" class="m"/>
<circle cx="217.4" cy="95.2" r="3.55" class="b"/>
<circle cx="224.6" cy="95.2" r="3.55" class="r"/>
<circle cx="228.2" cy="95.2" r="3.55" class="b"/>
<circle cx="201.8" cy="101.7" r="3.55" class="b"/>
<circle cx="204.8" cy="101.7" r="3.55" class="b"/>
<circle cx="207.8" cy="101.7" r="3.55" class="b"/>
<circle cx="219.2" cy="101.7" r="3.55" class="b"/>
<circle cx="225.2" cy="101.7" r="3.55" class="m"/>
<circle cx="239.0" cy="101.7" r="3.55" class="b"/>
<circle cx="248.0" cy="101.7" r="3.55" class="r"/>
<circle cx="248.0" cy="101.7" r="3.55" class="r"/>
<circle cx="232.5" cy="108.2" r="3.55" class="r"/>
<circle cx="236.7" cy="108.2" r="3.55" class="b"/>
<circle cx="257.7" cy="108.2" r="3.55" class="r"/>
<circle cx="207.8" cy="114.8" r="3.55" class="r"/>
<circle cx="214.2" cy="114.8" r="3.55" class="r"/>
<circle cx="220.4" cy="114.8" r="3.55" class="r"/>
<circle cx="201.8" cy="121.3" r="3.55" class="b"/>
<circle cx="220.4" cy="121.3" r="3.55" class="b"/>
<circle cx="116.5" cy="82.2" r="3.55" class="b"/>
<circle cx="126.7" cy="82.2" r="3.55" class="r"/>
<circle cx="109.3" cy="88.7" r="3.55" class="b"/>
<circle cx="134.5" cy="88.7" r="3.55" class="b"/>
<circle cx="134.5" cy="88.7" r="3.55" class="b"/>
<circle cx="145.3" cy="88.7" r="3.55" class="r"/>
<circle cx="126.7" cy="95.2" r="3.55" class="b"/>
<circle cx="106.9" cy="101.7" r="3.55" class="b"/>
<circle cx="118.9" cy="101.7" r="3.55" class="b"/>
<circle cx="121.9" cy="101.7" r="3.55" class="r"/>
<circle cx="132.7" cy="101.7" r="3.55" class="b"/>
<circle cx="137.5" cy="101.7" r="3.55" class="m"/>
<circle cx="147.1" cy="101.7" r="3.55" class="r"/>
<circle cx="154.4" cy="75.7" r="3.55" class="b"/>
<circle cx="160.4" cy="82.2" r="3.55" class="b"/>
<circle cx="155.6" cy="88.7" r="3.55" class="r"/>
<circle cx="165.2" cy="88.7" r="3.55" class="r"/>
<circle cx="174.9" cy="88.7" r="3.55" class="b"/>
<circle cx="183.3" cy="88.7" r="3.55" class="r"/>
<circle cx="183.9" cy="95.2" r="3.55" class="r"/>
<circle cx="152.0" cy="101.7" r="3.55" class="r"/>
<circle cx="162.8" cy="101.7" r="3.55" class="b"/>
<circle cx="171.9" cy="101.7" r="3.55" class="b"/>
<circle cx="171.9" cy="101.7" r="3.55" class="b"/>
<circle cx="182.0" cy="101.7" r="3.55" class="b"/>
<circle cx="185.0" cy="101.7" r="3.55" class="r"/>
<circle cx="194.7" cy="101.7" r="3.55" class="r"/>
<circle cx="135.1" cy="108.2" r="3.55" class="b"/>
<circle cx="144.1" cy="108.2" r="3.55" class="b"/>
<circle cx="104.4" cy="114.8" r="3.55" class="b"/>
<circle cx="117.1" cy="114.8" r="3.55" class="b"/>
<circle cx="129.1" cy="114.8" r="3.55" class="b"/>
<circle cx="142.3" cy="114.8" r="3.55" class="b"/>
<circle cx="148.3" cy="114.8" r="3.55" class="b"/>
<circle cx="86.8" cy="121.3" r="3.55" class="m"/>
<circle cx="112.9" cy="121.3" r="3.55" class="b"/>
<circle cx="125.5" cy="121.3" r="3.55" class="b"/>
<circle cx="130.5" cy="121.3" r="3.55" class="b"/>
<circle cx="132.5" cy="121.3" r="3.55" class="r"/>
<circle cx="141.7" cy="121.3" r="3.55" class="r"/>
<circle cx="147.1" cy="121.3" r="3.55" class="b"/>
<circle cx="115.3" cy="127.8" r="3.55" class="b"/>
<circle cx="124.3" cy="127.8" r="3.55" class="b"/>
<circle cx="130.9" cy="127.8" r="3.55" class="r"/>
<circle cx="137.5" cy="127.8" r="3.55" class="b"/>
<circle cx="137.5" cy="127.8" r="3.55" class="b"/>
<circle cx="143.5" cy="127.8" r="3.55" class="b"/>
<circle cx="147.7" cy="127.8" r="3.55" class="r"/>
<circle cx="133.9" cy="134.3" r="3.55" class="b"/>
<circle cx="139.9" cy="134.3" r="3.55" class="b"/>
<circle cx="147.1" cy="134.3" r="3.55" class="r"/>
<circle cx="144.1" cy="140.8" r="3.55" class="r"/>
<circle cx="141.2" cy="101.7" r="3.55" class="r"/>
<circle cx="161.6" cy="108.2" r="3.55" class="b"/>
<circle cx="187.5" cy="108.2" r="3.55" class="b"/>
<circle cx="149.6" cy="114.8" r="3.55" class="b"/>
<circle cx="153.8" cy="114.8" r="3.55" class="b"/>
<circle cx="158.0" cy="114.8" r="3.55" class="r"/>
<circle cx="170.6" cy="114.8" r="3.55" class="b"/>
<circle cx="156.8" cy="121.3" r="3.55" class="b"/>
<circle cx="171.9" cy="121.3" r="3.55" class="b"/>
<circle cx="179.7" cy="121.3" r="3.55" class="r"/>
<circle cx="188.7" cy="121.3" r="3.55" class="r"/>
<circle cx="192.9" cy="121.3" r="3.55" class="r"/>
<circle cx="142.4" cy="127.8" r="3.55" class="b"/>
<circle cx="153.2" cy="127.8" r="3.55" class="b"/>
<circle cx="174.9" cy="127.8" r="3.55" class="b"/>
<circle cx="181.5" cy="127.8" r="3.55" class="r"/>
<circle cx="189.3" cy="127.8" r="3.55" class="b"/>
<circle cx="199.0" cy="127.8" r="3.55" class="b"/>
<circle cx="202.5" cy="127.8" r="3.55" class="r"/>
<circle cx="213.3" cy="127.8" r="3.55" class="r"/>
<circle cx="143.6" cy="134.3" r="3.55" class="r"/>
<circle cx="162.8" cy="134.3" r="3.55" class="b"/>
<circle cx="169.4" cy="134.3" r="3.55" class="b"/>
<circle cx="174.3" cy="134.3" r="3.55" class="b"/>
<circle cx="189.9" cy="134.3" r="3.55" class="b"/>
<circle cx="205.5" cy="134.3" r="3.55" class="b"/>
<circle cx="213.3" cy="134.3" r="3.55" class="r"/>
<circle cx="148.4" cy="140.8" r="3.55" class="b"/>
<circle cx="155.0" cy="140.8" r="3.55" class="r"/>
<circle cx="160.4" cy="140.8" r="3.55" class="r"/>
<circle cx="167.0" cy="140.8" r="3.55" class="b"/>
<circle cx="174.9" cy="140.8" r="3.55" class="b"/>
<circle cx="182.0" cy="140.8" r="3.55" class="r"/>
<circle cx="185.0" cy="140.8" r="3.55" class="b"/>
<circle cx="195.3" cy="140.8" r="3.55" class="b"/>
<circle cx="211.5" cy="140.8" r="3.55" class="r"/>
<circle cx="156.8" cy="147.3" r="3.55" class="r"/>
<circle cx="164.0" cy="147.3" r="3.55" class="b"/>
<circle cx="172.5" cy="147.3" r="3.55" class="b"/>
<circle cx="184.5" cy="147.3" r="3.55" class="r"/>
<circle cx="192.9" cy="147.3" r="3.55" class="r"/>
<circle cx="202.5" cy="147.3" r="3.55" class="r"/>
<circle cx="209.7" cy="147.3" r="3.55" class="b"/>
<circle cx="215.2" cy="127.8" r="3.55" class="r"/>
<circle cx="230.0" cy="127.8" r="3.55" class="r"/>
<circle cx="232.9" cy="127.8" r="3.55" class="b"/>
<circle cx="240.9" cy="127.8" r="3.55" class="r"/>
<circle cx="251.1" cy="127.8" r="3.55" class="b"/>
<circle cx="215.2" cy="134.3" r="3.55" class="r"/>
<circle cx="221.5" cy="134.3" r="3.55" class="r"/>
<circle cx="242.0" cy="134.3" r="3.55" class="r"/>
<circle cx="246.6" cy="134.3" r="3.55" class="r"/>
<circle cx="211.8" cy="140.8" r="3.55" class="r"/>
<circle cx="219.2" cy="140.8" r="3.55" class="r"/>
<circle cx="225.5" cy="140.8" r="3.55" class="r"/>
<circle cx="246.6" cy="140.8" r="3.55" class="b"/>
<circle cx="217.5" cy="147.3" r="3.55" class="b"/>
<circle cx="227.2" cy="147.3" r="3.55" class="b"/>
<circle cx="243.7" cy="147.3" r="3.55" class="b"/>
<circle cx="84.7" cy="179.8" r="3.55" class="r"/>
<circle cx="97.2" cy="179.8" r="3.55" class="b"/>
<circle cx="101.0" cy="179.8" r="3.55" class="b"/>
<circle cx="103.0" cy="179.8" r="3.55" class="r"/>
<circle cx="109.2" cy="179.8" r="3.55" class="b"/>
<circle cx="112.6" cy="179.8" r="3.55" class="b"/>
<circle cx="117.7" cy="179.8" r="3.55" class="r"/>
<circle cx="124.0" cy="179.8" r="3.55" class="b"/>
<circle cx="129.6" cy="179.8" r="3.55" class="r"/>
<circle cx="93.8" cy="186.3" r="3.55" class="b"/>
<circle cx="101.8" cy="186.3" r="3.55" class="r"/>
<circle cx="109.2" cy="186.3" r="3.55" class="b"/>
<circle cx="112.6" cy="186.3" r="3.55" class="b"/>
<circle cx="120.5" cy="186.3" r="3.55" class="r"/>
<circle cx="128.5" cy="186.3" r="3.55" class="r"/>
<circle cx="147.0" cy="140.8" r="3.55" class="b"/>
<circle cx="146.0" cy="147.3" r="3.55" class="r"/>
<circle cx="148.0" cy="147.3" r="3.55" class="b"/>
<circle cx="159.6" cy="147.3" r="3.55" class="b"/>
<circle cx="164.2" cy="147.3" r="3.55" class="r"/>
<circle cx="173.3" cy="147.3" r="3.55" class="b"/>
<circle cx="183.5" cy="147.3" r="3.55" class="r"/>
<circle cx="189.2" cy="147.3" r="3.55" class="r"/>
<circle cx="166.4" cy="153.8" r="3.55" class="b"/>
<circle cx="184.7" cy="153.8" r="3.55" class="r"/>
<circle cx="150.5" cy="160.3" r="3.55" class="b"/>
<circle cx="159.6" cy="160.3" r="3.55" class="b"/>
<circle cx="167.6" cy="160.3" r="3.55" class="r"/>
<circle cx="177.8" cy="160.3" r="3.55" class="r"/>
<circle cx="186.9" cy="160.3" r="3.55" class="b"/>
<circle cx="150.5" cy="166.8" r="3.55" class="r"/>
<circle cx="158.5" cy="166.8" r="3.55" class="b"/>
<circle cx="167.6" cy="166.8" r="3.55" class="r"/>
<circle cx="174.4" cy="166.8" r="3.55" class="r"/>
<circle cx="183.5" cy="166.8" r="3.55" class="b"/>
<circle cx="188.1" cy="166.8" r="3.55" class="r"/>
<circle cx="151.6" cy="173.3" r="3.55" class="b"/>
<circle cx="158.5" cy="173.3" r="3.55" class="b"/>
<circle cx="165.3" cy="173.3" r="3.55" class="b"/>
<circle cx="171.0" cy="173.3" r="3.55" class="r"/>
<circle cx="177.8" cy="173.3" r="3.55" class="r"/>
<circle cx="185.8" cy="173.3" r="3.55" class="r"/>
<circle cx="131.1" cy="179.8" r="3.55" class="r"/>
<circle cx="139.1" cy="179.8" r="3.55" class="b"/>
<circle cx="147.1" cy="179.8" r="3.55" class="b"/>
<circle cx="152.8" cy="179.8" r="3.55" class="b"/>
<circle cx="160.7" cy="179.8" r="3.55" class="b"/>
<circle cx="171.0" cy="179.8" r="3.55" class="r"/>
<circle cx="176.7" cy="179.8" r="3.55" class="r"/>
<circle cx="183.5" cy="179.8" r="3.55" class="r"/>
<circle cx="133.4" cy="186.3" r="3.55" class="b"/>
<circle cx="138.0" cy="186.3" r="3.55" class="r"/>
<circle cx="147.1" cy="186.3" r="3.55" class="b"/>
<circle cx="151.6" cy="186.3" r="3.55" class="b"/>
<circle cx="158.5" cy="186.3" r="3.55" class="r"/>
<circle cx="173.3" cy="186.3" r="3.55" class="r"/>
<circle cx="180.1" cy="186.3" r="3.55" class="r"/>
<circle cx="186.9" cy="186.3" r="3.55" class="r"/>
<circle cx="187.3" cy="140.8" r="3.55" class="b"/>
<circle cx="195.2" cy="140.8" r="3.55" class="b"/>
<circle cx="218.0" cy="140.8" r="3.55" class="r"/>
<circle cx="224.8" cy="140.8" r="3.55" class="r"/>
<circle cx="186.1" cy="147.3" r="3.55" class="r"/>
<circle cx="195.2" cy="147.3" r="3.55" class="b"/>
<circle cx="215.7" cy="147.3" r="3.55" class="r"/>
<circle cx="219.2" cy="147.3" r="3.55" class="b"/>
<circle cx="226.0" cy="147.3" r="3.55" class="b"/>
<circle cx="229.4" cy="147.3" r="3.55" class="b"/>
<circle cx="186.1" cy="153.8" r="3.55" class="r"/>
<circle cx="190.7" cy="153.8" r="3.55" class="r"/>
<circle cx="196.4" cy="153.8" r="3.55" class="b"/>
<circle cx="203.2" cy="153.8" r="3.55" class="r"/>
<circle cx="207.8" cy="153.8" r="3.55" class="r"/>
<circle cx="243.0" cy="153.8" r="3.55" class="r"/>
<circle cx="187.3" cy="160.3" r="3.55" class="b"/>
<circle cx="196.4" cy="160.3" r="3.55" class="r"/>
<circle cx="200.9" cy="160.3" r="3.55" class="b"/>
<circle cx="208.9" cy="160.3" r="3.55" class="r"/>
<circle cx="189.6" cy="166.8" r="3.55" class="b"/>
<circle cx="202.1" cy="166.8" r="3.55" class="b"/>
<circle cx="220.3" cy="166.8" r="3.55" class="b"/>
<circle cx="224.8" cy="166.8" r="3.55" class="r"/>
<circle cx="238.5" cy="166.8" r="3.55" class="r"/>
<circle cx="187.3" cy="173.3" r="3.55" class="r"/>
<circle cx="195.2" cy="173.3" r="3.55" class="b"/>
<circle cx="204.4" cy="173.3" r="3.55" class="r"/>
<circle cx="218.0" cy="173.3" r="3.55" class="b"/>
<circle cx="223.7" cy="173.3" r="3.55" class="r"/>
<circle cx="232.8" cy="173.3" r="3.55" class="r"/>
<circle cx="239.7" cy="173.3" r="3.55" class="r"/>
<circle cx="244.2" cy="173.3" r="3.55" class="r"/>
<circle cx="188.4" cy="179.8" r="3.55" class="r"/>
<circle cx="198.7" cy="179.8" r="3.55" class="b"/>
<circle cx="210.0" cy="179.8" r="3.55" class="r"/>
<circle cx="218.0" cy="179.8" r="3.55" class="b"/>
<circle cx="226.0" cy="179.8" r="3.55" class="r"/>
<circle cx="228.3" cy="179.8" r="3.55" class="b"/>
<circle cx="189.6" cy="186.3" r="3.55" class="b"/>
<circle cx="194.1" cy="186.3" r="3.55" class="b"/>
<circle cx="198.7" cy="186.3" r="3.55" class="b"/>
<circle cx="207.8" cy="186.3" r="3.55" class="r"/>
<circle cx="216.9" cy="186.3" r="3.55" class="b"/>
<circle cx="222.6" cy="186.3" r="3.55" class="r"/>
<circle cx="232.8" cy="186.3" r="3.55" class="b"/>
<circle cx="227.3" cy="140.8" r="3.55" class="r"/>
<circle cx="246.0" cy="140.8" r="3.55" class="b"/>
<circle cx="242.1" cy="153.8" r="3.55" class="r"/>
<circle cx="248.9" cy="153.8" r="3.55" class="r"/>
<circle cx="246.6" cy="160.3" r="3.55" class="r"/>
<circle cx="227.3" cy="166.8" r="3.55" class="r"/>
<circle cx="246.6" cy="166.8" r="3.55" class="r"/>
<circle cx="253.5" cy="166.8" r="3.55" class="r"/>
<circle cx="226.1" cy="173.3" r="3.55" class="b"/>
<circle cx="246.6" cy="179.8" r="3.55" class="r"/>
<circle cx="104.0" cy="186.3" r="3.55" class="b"/>
<circle cx="116.0" cy="186.3" r="3.55" class="b"/>
<circle cx="124.0" cy="186.3" r="3.55" class="b"/>
<circle cx="93.8" cy="192.8" r="3.55" class="b"/>
<circle cx="101.2" cy="192.8" r="3.55" class="b"/>
<circle cx="110.3" cy="192.8" r="3.55" class="r"/>
<circle cx="117.0" cy="192.8" r="3.55" class="b"/>
<circle cx="119.0" cy="192.8" r="3.55" class="r"/>
<circle cx="125.1" cy="192.8" r="3.55" class="b"/>
<circle cx="132.0" cy="192.8" r="3.55" class="b"/>
<circle cx="98.9" cy="199.3" r="3.55" class="r"/>
<circle cx="106.9" cy="199.3" r="3.55" class="b"/>
<circle cx="113.7" cy="199.3" r="3.55" class="b"/>
<circle cx="118.0" cy="199.3" r="3.55" class="b"/>
<circle cx="122.8" cy="199.3" r="3.55" class="b"/>
<circle cx="130.8" cy="199.3" r="3.55" class="b"/>
<circle cx="87.5" cy="205.8" r="3.55" class="b"/>
<circle cx="95.5" cy="205.8" r="3.55" class="b"/>
<circle cx="104.6" cy="205.8" r="3.55" class="b"/>
<circle cx="111.4" cy="205.8" r="3.55" class="b"/>
<circle cx="120.6" cy="205.8" r="3.55" class="r"/>
<circle cx="126.3" cy="205.8" r="3.55" class="b"/>
<circle cx="133.1" cy="205.8" r="3.55" class="b"/>
<circle cx="89.8" cy="212.3" r="3.55" class="r"/>
<circle cx="96.6" cy="212.3" r="3.55" class="r"/>
<circle cx="103.5" cy="212.3" r="3.55" class="b"/>
<circle cx="111.4" cy="212.3" r="3.55" class="b"/>
<circle cx="119.4" cy="212.3" r="3.55" class="b"/>
<circle cx="127.4" cy="212.3" r="3.55" class="b"/>
<circle cx="85.3" cy="218.8" r="3.55" class="b"/>
<circle cx="92.1" cy="218.8" r="3.55" class="r"/>
<circle cx="101.2" cy="218.8" r="3.55" class="b"/>
<circle cx="109.2" cy="218.8" r="3.55" class="b"/>
<circle cx="116.0" cy="218.8" r="3.55" class="r"/>
<circle cx="122.8" cy="218.8" r="3.55" class="b"/>
<circle cx="132.0" cy="218.8" r="3.55" class="r"/>
<circle cx="88.7" cy="225.3" r="3.55" class="r"/>
<circle cx="97.8" cy="225.3" r="3.55" class="b"/>
<circle cx="105.8" cy="225.3" r="3.55" class="r"/>
<circle cx="112.6" cy="225.3" r="3.55" class="b"/>
<circle cx="119.4" cy="225.3" r="3.55" class="r"/>
<circle cx="126.3" cy="225.3" r="3.55" class="b"/>
<circle cx="133.1" cy="225.3" r="3.55" class="b"/>
<circle cx="89.8" cy="231.8" r="3.55" class="r"/>
<circle cx="96.6" cy="231.8" r="3.55" class="b"/>
<circle cx="106.9" cy="231.8" r="3.55" class="r"/>
<circle cx="114.9" cy="231.8" r="3.55" class="b"/>
<circle cx="124.0" cy="231.8" r="3.55" class="b"/>
<circle cx="132.0" cy="231.8" r="3.55" class="r"/>
<circle cx="92.3" cy="251.3" r="3.55" class="b"/>
<circle cx="100.4" cy="251.3" r="3.55" class="b"/>
<circle cx="102.5" cy="251.3" r="3.55" class="r"/>
<circle cx="106.0" cy="251.3" r="3.55" class="b"/>
<circle cx="111.3" cy="251.3" r="3.55" class="b"/>
<circle cx="115.0" cy="251.3" r="3.55" class="b"/>
<circle cx="119.5" cy="251.3" r="3.55" class="b"/>
<circle cx="125.0" cy="251.3" r="3.55" class="b"/>
<circle cx="130.4" cy="251.3" r="3.55" class="r"/>
<circle cx="137.2" cy="251.3" r="3.55" class="r"/>
<circle cx="142.7" cy="251.3" r="3.55" class="r"/>
<circle cx="147.0" cy="251.3" r="3.55" class="b"/>
<circle cx="152.2" cy="251.3" r="3.55" class="r"/>
<circle cx="156.0" cy="251.3" r="3.55" class="b"/>
<circle cx="160.4" cy="251.3" r="3.55" class="b"/>
<circle cx="102.0" cy="257.8" r="3.55" class="b"/>
<circle cx="107.2" cy="257.8" r="3.55" class="b"/>
<circle cx="111.0" cy="257.8" r="3.55" class="r"/>
<circle cx="115.4" cy="257.8" r="3.55" class="b"/>
<circle cx="120.9" cy="257.8" r="3.55" class="r"/>
<circle cx="125.0" cy="257.8" r="3.55" class="b"/>
<circle cx="129.0" cy="257.8" r="3.55" class="r"/>
<circle cx="135.9" cy="257.8" r="3.55" class="b"/>
<circle cx="140.0" cy="257.8" r="3.55" class="r"/>
<circle cx="145.4" cy="257.8" r="3.55" class="r"/>
<circle cx="149.0" cy="257.8" r="3.55" class="b"/>
<circle cx="153.6" cy="257.8" r="3.55" class="b"/>
<circle cx="157.0" cy="257.8" r="3.55" class="r"/>
<circle cx="161.7" cy="257.8" r="3.55" class="r"/>
<circle cx="85.4" cy="264.3" r="3.55" class="r"/>
<circle cx="90.9" cy="264.3" r="3.55" class="m"/>
<circle cx="103.2" cy="264.3" r="3.55" class="b"/>
<circle cx="107.2" cy="264.3" r="3.55" class="b"/>
<circle cx="112.0" cy="264.3" r="3.55" class="b"/>
<circle cx="118.1" cy="264.3" r="3.55" class="r"/>
<circle cx="123.6" cy="264.3" r="3.55" class="r"/>
<circle cx="129.0" cy="264.3" r="3.55" class="b"/>
<circle cx="134.5" cy="264.3" r="3.55" class="b"/>
<circle cx="138.0" cy="264.3" r="3.55" class="r"/>
<circle cx="142.7" cy="264.3" r="3.55" class="b"/>
<circle cx="146.0" cy="264.3" r="3.55" class="r"/>
<circle cx="150.8" cy="264.3" r="3.55" class="r"/>
<circle cx="157.7" cy="264.3" r="3.55" class="b"/>
<circle cx="163.1" cy="264.3" r="3.55" class="b"/>
<circle cx="99.1" cy="270.8" r="3.55" class="m"/>
<circle cx="107.2" cy="270.8" r="3.55" class="b"/>
<circle cx="114.1" cy="270.8" r="3.55" class="b"/>
<circle cx="118.0" cy="270.8" r="3.55" class="r"/>
<circle cx="122.2" cy="270.8" r="3.55" class="b"/>
<circle cx="130.4" cy="270.8" r="3.55" class="b"/>
<circle cx="137.2" cy="270.8" r="3.55" class="r"/>
<circle cx="144.0" cy="270.8" r="3.55" class="b"/>
<circle cx="148.0" cy="270.8" r="3.55" class="b"/>
<circle cx="153.6" cy="270.8" r="3.55" class="b"/>
<circle cx="157.0" cy="270.8" r="3.55" class="r"/>
<circle cx="161.7" cy="270.8" r="3.55" class="r"/>
<circle cx="105.9" cy="277.4" r="3.55" class="m"/>
<circle cx="114.1" cy="277.4" r="3.55" class="b"/>
<circle cx="118.1" cy="277.4" r="3.55" class="b"/>
<circle cx="127.7" cy="277.4" r="3.55" class="r"/>
<circle cx="134.5" cy="277.4" r="3.55" class="r"/>
<circle cx="139.9" cy="277.4" r="3.55" class="r"/>
<circle cx="145.4" cy="277.4" r="3.55" class="b"/>
<circle cx="150.8" cy="277.4" r="3.55" class="b"/>
<circle cx="156.3" cy="277.4" r="3.55" class="r"/>
<circle cx="163.1" cy="277.4" r="3.55" class="r"/>
<circle cx="162.7" cy="251.3" r="3.55" class="b"/>
<circle cx="167.0" cy="251.3" r="3.55" class="r"/>
<circle cx="172.3" cy="251.3" r="3.55" class="r"/>
<circle cx="176.0" cy="251.3" r="3.55" class="b"/>
<circle cx="180.4" cy="251.3" r="3.55" class="r"/>
<circle cx="187.2" cy="251.3" r="3.55" class="b"/>
<circle cx="192.7" cy="251.3" r="3.55" class="r"/>
<circle cx="199.5" cy="251.3" r="3.55" class="r"/>
<circle cx="203.0" cy="251.3" r="3.55" class="b"/>
<circle cx="207.7" cy="251.3" r="3.55" class="r"/>
<circle cx="214.0" cy="251.3" r="3.55" class="r"/>
<circle cx="220.0" cy="251.3" r="3.55" class="b"/>
<circle cx="228.1" cy="251.3" r="3.55" class="r"/>
<circle cx="165.0" cy="257.8" r="3.55" class="b"/>
<circle cx="169.5" cy="257.8" r="3.55" class="r"/>
<circle cx="175.0" cy="257.8" r="3.55" class="r"/>
<circle cx="180.4" cy="257.8" r="3.55" class="r"/>
<circle cx="188.6" cy="257.8" r="3.55" class="b"/>
<circle cx="194.1" cy="257.8" r="3.55" class="r"/>
<circle cx="199.0" cy="257.8" r="3.55" class="b"/>
<circle cx="205.0" cy="257.8" r="3.55" class="r"/>
<circle cx="211.8" cy="257.8" r="3.55" class="r"/>
<circle cx="217.2" cy="257.8" r="3.55" class="r"/>
<circle cx="221.3" cy="257.8" r="3.55" class="b"/>
<circle cx="225.0" cy="257.8" r="3.55" class="r"/>
<circle cx="230.8" cy="257.8" r="3.55" class="r"/>
<circle cx="167.0" cy="264.3" r="3.55" class="r"/>
<circle cx="169.5" cy="264.3" r="3.55" class="r"/>
<circle cx="172.0" cy="264.3" r="3.55" class="b"/>
<circle cx="176.3" cy="264.3" r="3.55" class="r"/>
<circle cx="181.0" cy="264.3" r="3.55" class="b"/>
<circle cx="185.9" cy="264.3" r="3.55" class="r"/>
<circle cx="193.4" cy="264.3" r="3.55" class="b"/>
<circle cx="199.5" cy="264.3" r="3.55" class="r"/>
<circle cx="203.0" cy="264.3" r="3.55" class="r"/>
<circle cx="207.7" cy="264.3" r="3.55" class="r"/>
<circle cx="213.1" cy="264.3" r="3.55" class="b"/>
<circle cx="221.3" cy="264.3" r="3.55" class="r"/>
<circle cx="226.0" cy="264.3" r="3.55" class="r"/>
<circle cx="165.4" cy="270.8" r="3.55" class="r"/>
<circle cx="170.9" cy="270.8" r="3.55" class="r"/>
<circle cx="176.0" cy="270.8" r="3.55" class="b"/>
<circle cx="184.5" cy="270.8" r="3.55" class="r"/>
<circle cx="192.0" cy="270.8" r="3.55" class="b"/>
<circle cx="198.8" cy="270.8" r="3.55" class="r"/>
<circle cx="208.4" cy="270.8" r="3.55" class="r"/>
<circle cx="214.5" cy="270.8" r="3.55" class="r"/>
<circle cx="161.4" cy="277.4" r="3.55" class="r"/>
<circle cx="168.0" cy="277.4" r="3.55" class="b"/>
<circle cx="175.0" cy="277.4" r="3.55" class="b"/>
<circle cx="190.0" cy="277.4" r="3.55" class="r"/>
<circle cx="200.9" cy="277.4" r="3.55" class="r"/>
<circle cx="84.1" cy="212.3" r="3.55" class="b"/>
<circle cx="140.0" cy="212.3" r="3.55" class="b"/>
<circle cx="146.0" cy="212.3" r="3.55" class="r"/>
<circle cx="152.0" cy="212.3" r="3.55" class="b"/>
<circle cx="158.0" cy="212.3" r="3.55" class="b"/>
<circle cx="163.0" cy="212.3" r="3.55" class="r"/>
<circle cx="84.1" cy="218.8" r="3.55" class="b"/>
<circle cx="89.5" cy="218.8" r="3.55" class="r"/>
<circle cx="97.7" cy="218.8" r="3.55" class="b"/>
<circle cx="107.2" cy="218.8" r="3.55" class="b"/>
<circle cx="118.1" cy="218.8" r="3.55" class="b"/>
<circle cx="131.8" cy="218.8" r="3.55" class="m"/>
<circle cx="140.0" cy="218.8" r="3.55" class="b"/>
<circle cx="148.1" cy="218.8" r="3.55" class="b"/>
<circle cx="157.7" cy="218.8" r="3.55" class="b"/>
<circle cx="90.2" cy="225.3" r="3.55" class="m"/>
<circle cx="97.7" cy="225.3" r="3.55" class="b"/>
<circle cx="112.7" cy="225.3" r="3.55" class="r"/>
<circle cx="120.9" cy="225.3" r="3.55" class="b"/>
<circle cx="140.0" cy="225.3" r="3.55" class="r"/>
<circle cx="144.0" cy="225.3" r="3.55" class="r"/>
<circle cx="150.0" cy="225.3" r="3.55" class="b"/>
<circle cx="156.3" cy="225.3" r="3.55" class="b"/>
<circle cx="163.1" cy="225.3" r="3.55" class="b"/>
<circle cx="92.3" cy="231.8" r="3.55" class="m"/>
<circle cx="100.4" cy="231.8" r="3.55" class="b"/>
<circle cx="111.3" cy="231.8" r="3.55" class="r"/>
<circle cx="116.8" cy="231.8" r="3.55" class="r"/>
<circle cx="125.0" cy="231.8" r="3.55" class="b"/>
<circle cx="134.5" cy="231.8" r="3.55" class="b"/>
<circle cx="141.3" cy="231.8" r="3.55" class="b"/>
<circle cx="147.0" cy="231.8" r="3.55" class="b"/>
<circle cx="153.6" cy="231.8" r="3.55" class="r"/>
<circle cx="161.7" cy="231.8" r="3.55" class="b"/>
<circle cx="85.4" cy="238.3" r="3.55" class="m"/>
<circle cx="101.8" cy="238.3" r="3.55" class="b"/>
<circle cx="108.6" cy="238.3" r="3.55" class="b"/>
<circle cx="113.0" cy="238.3" r="3.55" class="r"/>
<circle cx="118.1" cy="238.3" r="3.55" class="b"/>
<circle cx="123.0" cy="238.3" r="3.55" class="b"/>
<circle cx="129.0" cy="238.3" r="3.55" class="m"/>
<circle cx="137.2" cy="238.3" r="3.55" class="b"/>
<circle cx="143.0" cy="238.3" r="3.55" class="b"/>
<circle cx="150.8" cy="238.3" r="3.55" class="r"/>
<circle cx="157.7" cy="238.3" r="3.55" class="r"/>
<circle cx="94.0" cy="244.8" r="3.55" class="b"/>
<circle cx="99.1" cy="244.8" r="3.55" class="r"/>
<circle cx="107.2" cy="244.8" r="3.55" class="b"/>
<circle cx="113.0" cy="244.8" r="3.55" class="b"/>
<circle cx="119.0" cy="244.8" r="3.55" class="r"/>
<circle cx="125.0" cy="244.8" r="3.55" class="b"/>
<circle cx="131.0" cy="244.8" r="3.55" class="b"/>
<circle cx="137.0" cy="244.8" r="3.55" class="r"/>
<circle cx="143.0" cy="244.8" r="3.55" class="b"/>
<circle cx="149.0" cy="244.8" r="3.55" class="r"/>
<circle cx="155.0" cy="244.8" r="3.55" class="b"/>
<circle cx="161.0" cy="244.8" r="3.55" class="r"/>
<circle cx="162.7" cy="212.3" r="3.55" class="r"/>
<circle cx="168.0" cy="212.3" r="3.55" class="b"/>
<circle cx="175.0" cy="212.3" r="3.55" class="b"/>
<circle cx="181.8" cy="212.3" r="3.55" class="r"/>
<circle cx="188.6" cy="212.3" r="3.55" class="r"/>
<circle cx="193.0" cy="212.3" r="3.55" class="b"/>
<circle cx="198.1" cy="212.3" r="3.55" class="b"/>
<circle cx="206.3" cy="212.3" r="3.55" class="r"/>
<circle cx="211.0" cy="212.3" r="3.55" class="r"/>
<circle cx="215.9" cy="212.3" r="3.55" class="b"/>
<circle cx="224.0" cy="212.3" r="3.55" class="r"/>
<circle cx="230.8" cy="212.3" r="3.55" class="b"/>
<circle cx="240.4" cy="212.3" r="3.55" class="r"/>
<circle cx="162.7" cy="218.8" r="3.55" class="b"/>
<circle cx="169.5" cy="218.8" r="3.55" class="b"/>
<circle cx="173.0" cy="218.8" r="3.55" class="r"/>
<circle cx="177.7" cy="218.8" r="3.55" class="r"/>
<circle cx="183.0" cy="218.8" r="3.55" class="b"/>
<circle cx="187.2" cy="218.8" r="3.55" class="b"/>
<circle cx="192.0" cy="218.8" r="3.55" class="r"/>
<circle cx="196.8" cy="218.8" r="3.55" class="r"/>
<circle cx="201.0" cy="218.8" r="3.55" class="b"/>
<circle cx="206.3" cy="218.8" r="3.55" class="r"/>
<circle cx="213.1" cy="218.8" r="3.55" class="b"/>
<circle cx="219.0" cy="218.8" r="3.55" class="r"/>
<circle cx="225.4" cy="218.8" r="3.55" class="b"/>
<circle cx="230.8" cy="218.8" r="3.55" class="b"/>
<circle cx="239.0" cy="218.8" r="3.55" class="r"/>
<circle cx="164.1" cy="225.3" r="3.55" class="b"/>
<circle cx="170.9" cy="225.3" r="3.55" class="b"/>
<circle cx="175.0" cy="225.3" r="3.55" class="r"/>
<circle cx="180.4" cy="225.3" r="3.55" class="r"/>
<circle cx="185.0" cy="225.3" r="3.55" class="b"/>
<circle cx="190.0" cy="225.3" r="3.55" class="b"/>
<circle cx="194.0" cy="225.3" r="3.55" class="r"/>
<circle cx="198.1" cy="225.3" r="3.55" class="r"/>
<circle cx="203.0" cy="225.3" r="3.55" class="b"/>
<circle cx="209.0" cy="225.3" r="3.55" class="r"/>
<circle cx="213.0" cy="225.3" r="3.55" class="r"/>
<circle cx="218.6" cy="225.3" r="3.55" class="r"/>
<circle cx="165.4" cy="231.8" r="3.55" class="b"/>
<circle cx="172.3" cy="231.8" r="3.55" class="b"/>
<circle cx="176.0" cy="231.8" r="3.55" class="r"/>
<circle cx="180.4" cy="231.8" r="3.55" class="r"/>
<circle cx="187.2" cy="231.8" r="3.55" class="r"/>
<circle cx="194.1" cy="231.8" r="3.55" class="b"/>
<circle cx="200.9" cy="231.8" r="3.55" class="r"/>
<circle cx="205.0" cy="231.8" r="3.55" class="b"/>
<circle cx="209.0" cy="231.8" r="3.55" class="r"/>
<circle cx="217.2" cy="231.8" r="3.55" class="r"/>
<circle cx="223.0" cy="231.8" r="3.55" class="r"/>
<circle cx="229.5" cy="231.8" r="3.55" class="r"/>
<circle cx="239.0" cy="231.8" r="3.55" class="r"/>
<circle cx="162.7" cy="238.3" r="3.55" class="r"/>
<circle cx="166.0" cy="238.3" r="3.55" class="b"/>
<circle cx="170.9" cy="238.3" r="3.55" class="b"/>
<circle cx="179.1" cy="238.3" r="3.55" class="r"/>
<circle cx="185.0" cy="238.3" r="3.55" class="r"/>
<circle cx="191.3" cy="238.3" r="3.55" class="b"/>
<circle cx="199.5" cy="238.3" r="3.55" class="b"/>
<circle cx="206.3" cy="238.3" r="3.55" class="r"/>
<circle cx="210.0" cy="238.3" r="3.55" class="b"/>
<circle cx="214.5" cy="238.3" r="3.55" class="r"/>
<circle cx="222.7" cy="238.3" r="3.55" class="r"/>
<circle cx="230.8" cy="238.3" r="3.55" class="r"/>
<circle cx="239.0" cy="238.3" r="3.55" class="r"/>
<circle cx="164.1" cy="244.8" r="3.55" class="r"/>
<circle cx="168.0" cy="244.8" r="3.55" class="b"/>
<circle cx="172.3" cy="244.8" r="3.55" class="r"/>
<circle cx="180.4" cy="244.8" r="3.55" class="b"/>
<circle cx="185.0" cy="244.8" r="3.55" class="r"/>
<circle cx="190.0" cy="244.8" r="3.55" class="r"/>
<circle cx="198.1" cy="244.8" r="3.55" class="r"/>
<circle cx="203.0" cy="244.8" r="3.55" class="b"/>
<circle cx="207.7" cy="244.8" r="3.55" class="r"/>
<circle cx="213.1" cy="244.8" r="3.55" class="b"/>
<circle cx="220.0" cy="244.8" r="3.55" class="r"/>
<circle cx="228.1" cy="244.8" r="3.55" class="r"/>
<circle cx="236.3" cy="244.8" r="3.55" class="r"/>
<circle cx="131.0" cy="186.3" r="3.55" class="r"/>
<circle cx="138.8" cy="186.3" r="3.55" class="b"/>
<circle cx="141.5" cy="186.3" r="3.55" class="r"/>
<circle cx="147.6" cy="186.3" r="3.55" class="b"/>
<circle cx="152.9" cy="186.3" r="3.55" class="b"/>
<circle cx="160.0" cy="186.3" r="3.55" class="r"/>
<circle cx="163.5" cy="186.3" r="3.55" class="b"/>
<circle cx="167.0" cy="186.3" r="3.55" class="b"/>
<circle cx="171.4" cy="186.3" r="3.55" class="r"/>
<circle cx="176.7" cy="186.3" r="3.55" class="r"/>
<circle cx="182.0" cy="186.3" r="3.55" class="r"/>
<circle cx="133.5" cy="192.8" r="3.55" class="b"/>
<circle cx="138.8" cy="192.8" r="3.55" class="b"/>
<circle cx="143.0" cy="192.8" r="3.55" class="b"/>
<circle cx="148.5" cy="192.8" r="3.55" class="r"/>
<circle cx="151.1" cy="192.8" r="3.55" class="b"/>
<circle cx="155.0" cy="192.8" r="3.55" class="b"/>
<circle cx="159.1" cy="192.8" r="3.55" class="r"/>
<circle cx="164.0" cy="192.8" r="3.55" class="b"/>
<circle cx="169.6" cy="192.8" r="3.55" class="r"/>
<circle cx="174.0" cy="192.8" r="3.55" class="b"/>
<circle cx="179.3" cy="192.8" r="3.55" class="r"/>
<circle cx="133.5" cy="199.3" r="3.55" class="b"/>
<circle cx="138.8" cy="199.3" r="3.55" class="b"/>
<circle cx="143.2" cy="199.3" r="3.55" class="b"/>
<circle cx="147.6" cy="199.3" r="3.55" class="b"/>
<circle cx="152.9" cy="199.3" r="3.55" class="b"/>
<circle cx="158.2" cy="199.3" r="3.55" class="b"/>
<circle cx="163.5" cy="199.3" r="3.55" class="b"/>
<circle cx="168.8" cy="199.3" r="3.55" class="b"/>
<circle cx="174.0" cy="199.3" r="3.55" class="b"/>
<circle cx="179.3" cy="199.3" r="3.55" class="b"/>
<circle cx="141.5" cy="199.3" r="3.55" class="r"/>
<circle cx="155.6" cy="199.3" r="3.55" class="r"/>
<circle cx="132.6" cy="205.8" r="3.55" class="b"/>
<circle cx="137.9" cy="205.8" r="3.55" class="b"/>
<circle cx="143.2" cy="205.8" r="3.55" class="b"/>
<circle cx="148.5" cy="205.8" r="3.55" class="b"/>
<circle cx="153.8" cy="205.8" r="3.55" class="b"/>
<circle cx="159.1" cy="205.8" r="3.55" class="b"/>
<circle cx="164.4" cy="205.8" r="3.55" class="b"/>
<circle cx="169.6" cy="205.8" r="3.55" class="b"/>
<circle cx="174.9" cy="205.8" r="3.55" class="b"/>
<circle cx="180.2" cy="205.8" r="3.55" class="b"/>
<circle cx="135.0" cy="212.3" r="3.55" class="b"/>
<circle cx="141.0" cy="212.3" r="3.55" class="r"/>
<circle cx="147.0" cy="212.3" r="3.55" class="b"/>
<circle cx="153.0" cy="212.3" r="3.55" class="r"/>
<circle cx="159.0" cy="212.3" r="3.55" class="b"/>
<circle cx="165.0" cy="212.3" r="3.55" class="r"/>
<circle cx="171.0" cy="212.3" r="3.55" class="b"/>
<circle cx="177.0" cy="212.3" r="3.55" class="r"/>
<circle cx="183.0" cy="212.3" r="3.55" class="b"/>
<circle cx="182.6" cy="186.3" r="3.55" class="r"/>
<circle cx="187.9" cy="186.3" r="3.55" class="b"/>
<circle cx="193.2" cy="186.3" r="3.55" class="b"/>
<circle cx="198.5" cy="186.3" r="3.55" class="b"/>
<circle cx="203.8" cy="186.3" r="3.55" class="b"/>
<circle cx="209.1" cy="186.3" r="3.55" class="b"/>
<circle cx="214.4" cy="186.3" r="3.55" class="b"/>
<circle cx="222.3" cy="186.3" r="3.55" class="r"/>
<circle cx="226.7" cy="186.3" r="3.55" class="r"/>
<circle cx="232.9" cy="186.3" r="3.55" class="b"/>
<circle cx="182.6" cy="192.8" r="3.55" class="b"/>
<circle cx="186.0" cy="192.8" r="3.55" class="b"/>
<circle cx="190.6" cy="192.8" r="3.55" class="r"/>
<circle cx="197.6" cy="192.8" r="3.55" class="r"/>
<circle cx="204.7" cy="192.8" r="3.55" class="b"/>
<circle cx="210.8" cy="192.8" r="3.55" class="b"/>
<circle cx="215.0" cy="192.8" r="3.55" class="r"/>
<circle cx="219.6" cy="192.8" r="3.55" class="r"/>
<circle cx="225.8" cy="192.8" r="3.55" class="r"/>
<circle cx="232.0" cy="192.8" r="3.55" class="b"/>
<circle cx="185.3" cy="199.3" r="3.55" class="r"/>
<circle cx="191.5" cy="199.3" r="3.55" class="r"/>
<circle cx="197.6" cy="199.3" r="3.55" class="r"/>
<circle cx="204.7" cy="199.3" r="3.55" class="r"/>
<circle cx="209.1" cy="199.3" r="3.55" class="r"/>
<circle cx="215.2" cy="199.3" r="3.55" class="b"/>
<circle cx="221.4" cy="199.3" r="3.55" class="r"/>
<circle cx="227.6" cy="199.3" r="3.55" class="b"/>
<circle cx="232.9" cy="199.3" r="3.55" class="b"/>
<circle cx="181.8" cy="205.8" r="3.55" class="r"/>
<circle cx="188.8" cy="205.8" r="3.55" class="r"/>
<circle cx="195.9" cy="205.8" r="3.55" class="b"/>
<circle cx="201.1" cy="205.8" r="3.55" class="b"/>
<circle cx="206.4" cy="205.8" r="3.55" class="r"/>
<circle cx="211.7" cy="205.8" r="3.55" class="b"/>
<circle cx="217.0" cy="205.8" r="3.55" class="r"/>
<circle cx="222.3" cy="205.8" r="3.55" class="b"/>
<circle cx="226.7" cy="205.8" r="3.55" class="r"/>
<circle cx="232.9" cy="205.8" r="3.55" class="b"/>
<circle cx="181.8" cy="212.3" r="3.55" class="r"/>
<circle cx="186.0" cy="212.3" r="3.55" class="b"/>
<circle cx="190.6" cy="212.3" r="3.55" class="r"/>
<circle cx="197.6" cy="212.3" r="3.55" class="b"/>
<circle cx="202.9" cy="212.3" r="3.55" class="r"/>
<circle cx="209.1" cy="212.3" r="3.55" class="r"/>
<circle cx="213.5" cy="212.3" r="3.55" class="b"/>
<circle cx="218.8" cy="212.3" r="3.55" class="b"/>
<circle cx="224.1" cy="212.3" r="3.55" class="r"/>
<circle cx="229.3" cy="212.3" r="3.55" class="b"/>
<circle cx="109.5" cy="140.8" r="3.55" class="b"/>
<circle cx="109.5" cy="140.8" r="3.55" class="b"/>
<circle cx="116.0" cy="140.8" r="3.55" class="b"/>
<circle cx="122.5" cy="140.8" r="3.55" class="b"/>
<circle cx="129.2" cy="140.8" r="3.55" class="b"/>
<circle cx="135.9" cy="140.8" r="3.55" class="b"/>
<circle cx="141.7" cy="140.8" r="3.55" class="b"/>
<circle cx="109.5" cy="147.3" r="3.55" class="r"/>
<circle cx="120.0" cy="147.3" r="3.55" class="b"/>
<circle cx="126.3" cy="147.3" r="3.55" class="b"/>
<circle cx="132.0" cy="147.3" r="3.55" class="b"/>
<circle cx="137.8" cy="147.3" r="3.55" class="m"/>
<circle cx="143.0" cy="147.3" r="3.55" class="b"/>
<circle cx="95.5" cy="153.8" r="3.55" class="m"/>
<circle cx="100.5" cy="153.8" r="3.55" class="b"/>
<circle cx="106.6" cy="153.8" r="3.55" class="b"/>
<circle cx="120.5" cy="153.8" r="3.55" class="b"/>
<circle cx="124.4" cy="153.8" r="3.55" class="b"/>
<circle cx="132.1" cy="153.8" r="3.55" class="m"/>
<circle cx="138.0" cy="153.8" r="3.55" class="b"/>
<circle cx="105.6" cy="160.3" r="3.55" class="b"/>
<circle cx="110.0" cy="160.3" r="3.55" class="b"/>
<circle cx="114.8" cy="160.3" r="3.55" class="b"/>
<circle cx="120.5" cy="160.3" r="3.55" class="b"/>
<circle cx="129.2" cy="160.3" r="3.55" class="m"/>
<circle cx="135.0" cy="160.3" r="3.55" class="b"/>
<circle cx="141.7" cy="160.3" r="3.55" class="m"/>
<circle cx="93.1" cy="166.8" r="3.55" class="m"/>
<circle cx="99.4" cy="166.8" r="3.55" class="m"/>
<circle cx="104.0" cy="166.8" r="3.55" class="b"/>
<circle cx="109.0" cy="166.8" r="3.55" class="b"/>
<circle cx="114.0" cy="166.8" r="3.55" class="b"/>
<circle cx="125.3" cy="166.8" r="3.55" class="b"/>
<circle cx="130.2" cy="166.8" r="3.55" class="b"/>
<circle cx="137.8" cy="166.8" r="3.55" class="m"/>
<circle cx="96.5" cy="173.3" r="3.55" class="r"/>
<circle cx="103.2" cy="173.3" r="3.55" class="b"/>
<circle cx="110.9" cy="173.3" r="3.55" class="b"/>
<circle cx="118.1" cy="173.3" r="3.55" class="m"/>
<circle cx="124.4" cy="173.3" r="3.55" class="m"/>
<circle cx="130.2" cy="173.3" r="3.55" class="b"/>
<circle cx="136.0" cy="173.3" r="3.55" class="b"/>
<circle cx="141.7" cy="173.3" r="3.55" class="r"/>
<polygon fill="#999" fill-opacity="0.2" points="84.1,211.5 95.7,209.7 107.3,208.0 118.9,206.1 130.6,204.2 142.2,202.0 153.8,199.8 165.4,197.3 177.0,194.8 188.6,192.2 200.2,189.6 211.9,186.9 223.5,184.2 235.1,181.5 246.7,178.8 258.3,176.1 269.9,173.4 281.6,170.7 293.2,167.9 304.8,165.2 316.4,162.5 328.0,159.7 339.6,157.0 351.2,154.2 362.9,151.5 374.5,148.8 386.1,146.0 397.7,143.3 409.3,140.5 420.9,137.8 432.5,135.0 444.2,132.3 455.8,129.5 467.4,126.8 479.0,124.1 490.6,121.3 502.2,118.6 513.9,115.8 525.5,113.1 537.1,110.3 548.7,107.6 548.7,148.6 537.1,150.2 525.5,151.8 513.9,153.4 502.2,155.0 490.6,156.6 479.0,158.2 467.4,159.8 455.8,161.4 444.2,163.0 432.5,164.6 420.9,166.2 409.3,167.8 397.7,169.3 386.1,170.9 374.5,172.5 362.9,174.1 351.2,175.7 339.6,177.3 328.0,178.9 316.4,180.5 304.8,182.1 293.2,183.8 281.6,185.4 269.9,187.0 258.3,188.6 246.7,190.2 235.1,191.8 223.5,193.5 211.9,195.1 200.2,196.8 188.6,198.5 177.0,200.3 165.4,202.1 153.8,204.0 142.2,206.1 130.6,208.3 118.9,210.7 107.3,213.1 95.7,215.7 84.1,218.3"/>
<polygon fill="#999" fill-opacity="0.2" points="84.1,214.3 96.9,213.0 109.6,211.7 122.4,210.3 135.2,208.9 148.0,207.4 160.7,205.9 173.5,204.3 186.3,202.7 199.1,201.0 211.8,199.3 224.6,197.5 237.4,195.8 250.1,194.1 262.9,192.3 275.7,190.6 288.5,188.8 301.2,187.0 314.0,185.3 326.8,183.5 339.5,181.7 352.3,179.9 365.1,178.2 377.9,176.4 390.6,174.6 403.4,172.8 416.2,171.1 429.0,169.3 441.7,167.5 454.5,165.7 467.3,163.9 480.0,162.2 492.8,160.4 505.6,158.6 518.4,156.8 531.1,155.0 543.9,153.2 556.7,151.5 569.5,149.7 582.2,147.9 595.0,146.1 595.0,169.1 582.2,170.2 569.5,171.4 556.7,172.6 543.9,173.7 531.1,174.9 518.4,176.0 505.6,177.2 492.8,178.3 480.0,179.5 467.3,180.6 454.5,181.8 441.7,182.9 429.0,184.1 416.2,185.2 403.4,186.4 390.6,187.5 377.9,188.7 365.1,189.9 352.3,191.0 339.5,192.2 326.8,193.3 314.0,194.5 301.2,195.7 288.5,196.8 275.7,198.0 262.9,199.2 250.1,200.4 237.4,201.6 224.6,202.8 211.8,204.0 199.1,205.2 186.3,206.5 173.5,207.8 160.7,209.1 148.0,210.5 135.2,211.9 122.4,213.5 109.6,215.0 96.9,216.7 84.1,218.3"/>
<line x1="84.1" y1="214.9" x2="548.7" y2="128.1" stroke="#1a55a5" stroke-width="3.3"/>
<line x1="84.1" y1="216.3" x2="595" y2="157.6" stroke="#dc1a1a" stroke-width="3.3"/>
<g stroke="#000" stroke-width="1.4" fill="none">
<path d="M59.7,4.4V289.7H619.6"/>
<path d="M54.2,277.4H59.7" stroke="#222"/>
<path d="M54.2,212.3H59.7" stroke="#222"/>
<path d="M54.2,147.3H59.7" stroke="#222"/>
<path d="M54.2,82.2H59.7" stroke="#222"/>
<path d="M54.2,17.2H59.7" stroke="#222"/>
<path d="M84.4,289.7V294"/>
<path d="M208.2,289.7V294"/>
<path d="M332.0,289.7V294"/>
<path d="M455.8,289.7V294"/>
<path d="M579.6,289.7V294"/>
</g>
<g font-family="Liberation Sans, sans-serif" font-size="18.5" fill="#4d4d4d">
<text transform="translate(49.9,285.7) scale(0.95,1.07)" text-anchor="end">10</text>
<text transform="translate(49.9,220.6) scale(0.95,1.07)" text-anchor="end">20</text>
<text transform="translate(49.9,155.6) scale(0.95,1.07)" text-anchor="end">30</text>
<text transform="translate(49.9,90.5) scale(0.95,1.07)" text-anchor="end">40</text>
<text transform="translate(49.9,25.5) scale(0.95,1.07)" text-anchor="end">50</text>
<text transform="translate(84.4,314.2) scale(0.96,1.05)" text-anchor="middle">0</text>
<text transform="translate(208.2,314.2) scale(0.96,1.05)" text-anchor="middle">100</text>
<text transform="translate(332.0,314.2) scale(0.96,1.05)" text-anchor="middle">200</text>
<text transform="translate(455.8,314.2) scale(0.96,1.05)" text-anchor="middle">300</text>
<text transform="translate(579.6,314.2) scale(0.96,1.05)" text-anchor="middle">400</text>
</g>
<g font-family="Liberation Sans, sans-serif" font-size="22.5" fill="#000" stroke="#000" stroke-width="0.35">
<text transform="translate(339,340) scale(0.985,1.02)" text-anchor="middle">Score</text>
<text transform="translate(21.3,146.0) rotate(-90) scale(0.997,1.04)" text-anchor="middle">PANAS Negative Affect</text>
</g>
<rect x="182.4" y="403.9" width="31" height="31" fill="#e9e9e9"/><line x1="184.9" y1="420.5" x2="210.9" y2="420.5" stroke="#fbfbf8" stroke-width="7"/><circle cx="197.9" cy="420.3" r="7.3" fill="#fbfbf8"/><circle cx="197.9" cy="420.3" r="4.7" fill="#6f9bd3" stroke="#2a66c0" stroke-width="1.6"/><line x1="186.20000000000002" y1="420.5" x2="211.0" y2="420.5" stroke="#1a56a8" stroke-width="3.8"/>
<rect x="360.7" y="403.9" width="31" height="31" fill="#e9e9e9"/><line x1="363.2" y1="420.5" x2="389.2" y2="420.5" stroke="#fbfbf8" stroke-width="7"/><circle cx="376.2" cy="420.3" r="7.3" fill="#fbfbf8"/><circle cx="376.2" cy="420.3" r="4.7" fill="#e87b7b" stroke="#df2a2a" stroke-width="1.6"/><line x1="364.5" y1="420.5" x2="389.3" y2="420.5" stroke="#dc1616" stroke-width="3.8"/>
<g font-family="Liberation Sans, sans-serif" font-size="18.3" fill="#000">
<text x="224" y="428.2">NLE Frequency</text>
<text x="402" y="428.2">NLE Impact</text>
</g>
</svg></body></html>
